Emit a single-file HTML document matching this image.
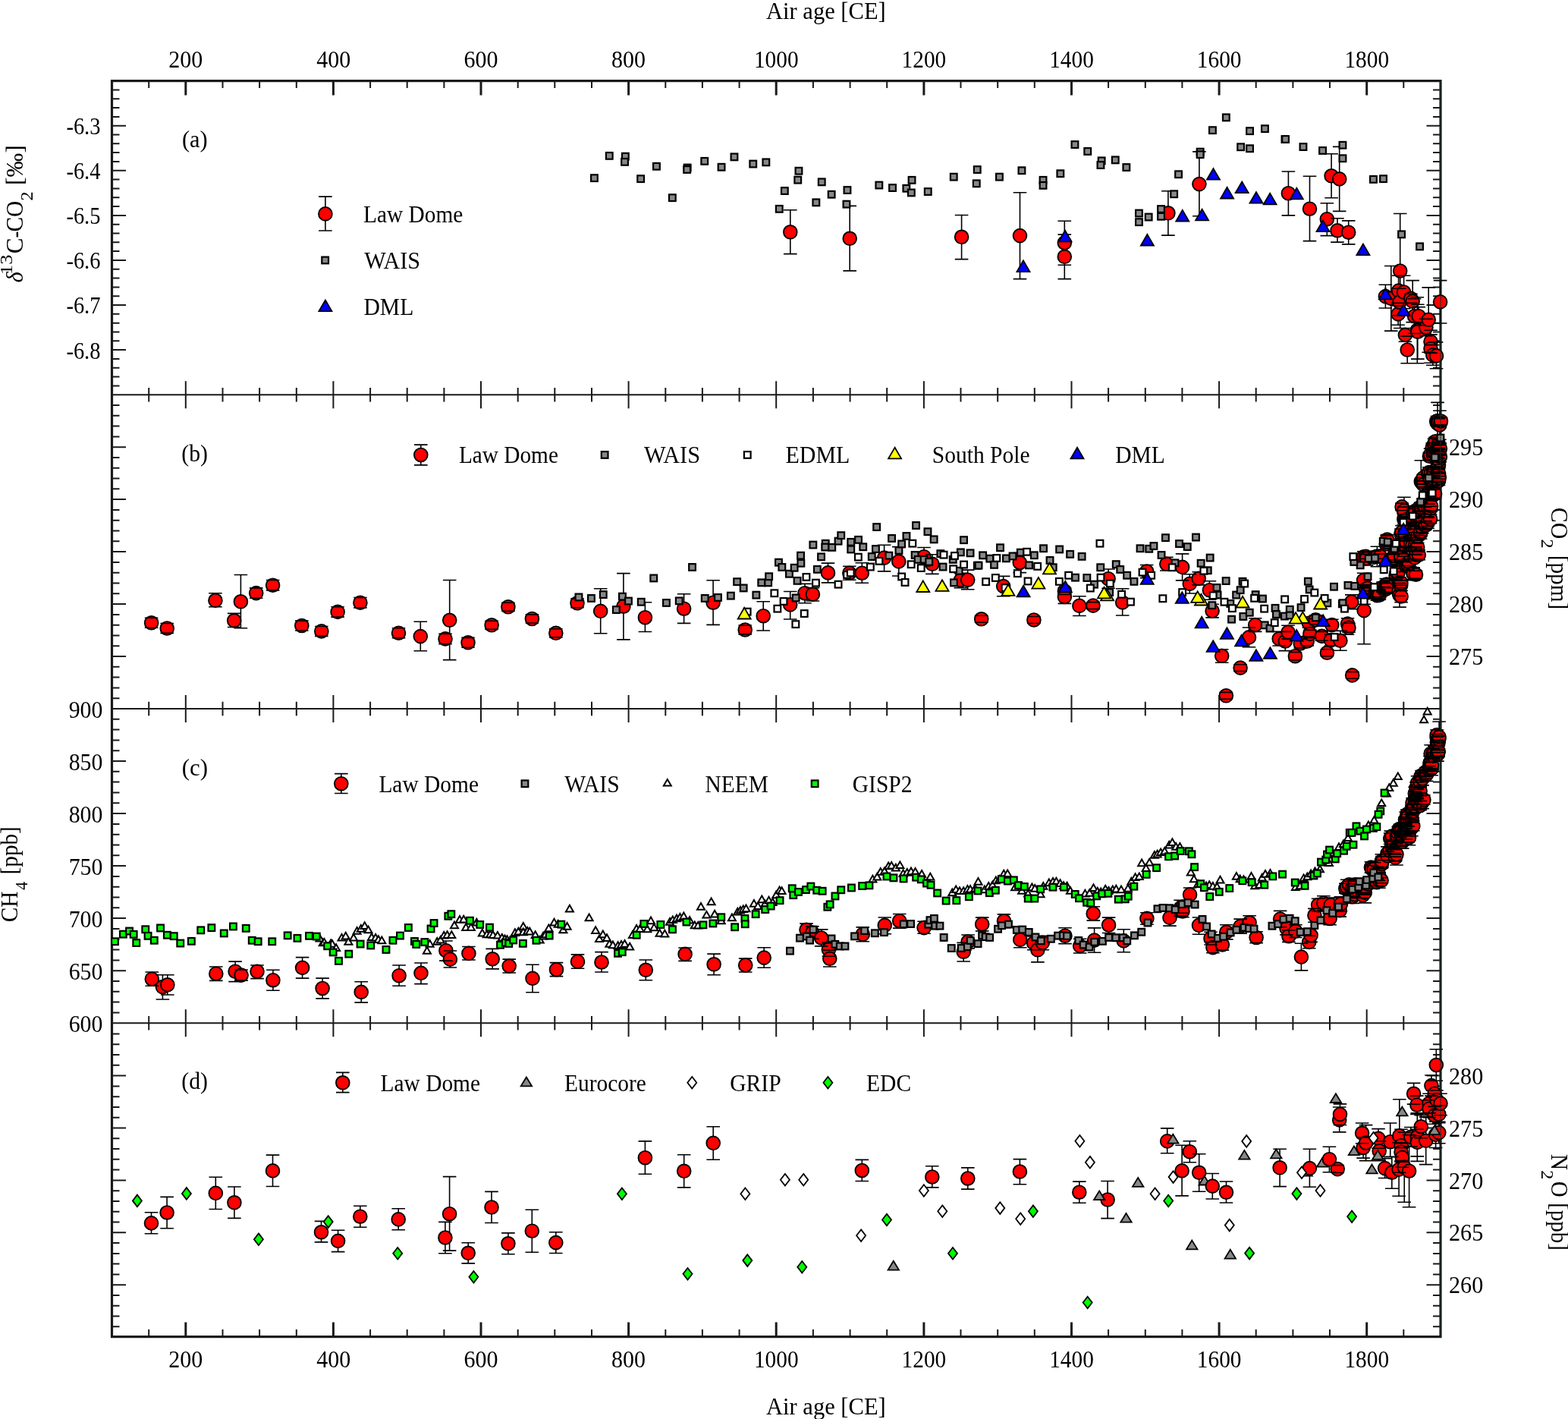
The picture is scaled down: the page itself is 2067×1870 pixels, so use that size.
<!DOCTYPE html>
<html lang="en"><head><meta charset="utf-8"><title>Law Dome trace gas records</title><style>
html,body{margin:0;padding:0;background:#fff}
body{width:2067px;height:1870px;overflow:hidden}
svg{display:block}
text{font-family:"Liberation Serif","Times New Roman",serif;fill:#000}
.tk{font-size:30.6px}
.eb{fill:none;stroke:#000;stroke-width:1.6}
.c{fill:#f00;stroke:#000;stroke-width:1.9}
.sg{fill:#888;stroke:#000;stroke-width:2.2}
.sw{fill:#fff;stroke:#000;stroke-width:2.2}
.sgr{fill:#0f0;stroke:#000;stroke-width:2.2}
.tb{fill:#00f;stroke:#000;stroke-width:1.8}
.ty{fill:#ff0;stroke:#000;stroke-width:1.8}
.te{fill:#888;stroke:#000;stroke-width:1.8}
.tn{fill:#fff;stroke:#000;stroke-width:2}
.dw{fill:#fff;stroke:#000;stroke-width:1.8}
.dg{fill:#0f0;stroke:#000;stroke-width:1.8}
</style></head><body>
<svg width="2067" height="1870" viewBox="0 0 2067 1870" role="img" aria-label="Law Dome trace gas records over the last 2000 years">
<rect width="2067" height="1870" fill="#fff"/>
<path d="M196.2 106.6v9.5M196.2 1761.6v-9.5M196.2 511v18.4M196.2 924.8v18.4M196.2 1339v18.4M244.8 502.2v36M244.8 916v36M244.8 1330.2v36M293.5 106.6v9.5M293.5 1761.6v-9.5M293.5 511v18.4M293.5 924.8v18.4M293.5 1339v18.4M342.1 106.6v9.5M342.1 1761.6v-9.5M342.1 511v18.4M342.1 924.8v18.4M342.1 1339v18.4M390.8 106.6v9.5M390.8 1761.6v-9.5M390.8 511v18.4M390.8 924.8v18.4M390.8 1339v18.4M439.4 502.2v36M439.4 916v36M439.4 1330.2v36M488.1 106.6v9.5M488.1 1761.6v-9.5M488.1 511v18.4M488.1 924.8v18.4M488.1 1339v18.4M536.7 106.6v9.5M536.7 1761.6v-9.5M536.7 511v18.4M536.7 924.8v18.4M536.7 1339v18.4M585.4 106.6v9.5M585.4 1761.6v-9.5M585.4 511v18.4M585.4 924.8v18.4M585.4 1339v18.4M634 502.2v36M634 916v36M634 1330.2v36M682.7 106.6v9.5M682.7 1761.6v-9.5M682.7 511v18.4M682.7 924.8v18.4M682.7 1339v18.4M731.3 106.6v9.5M731.3 1761.6v-9.5M731.3 511v18.4M731.3 924.8v18.4M731.3 1339v18.4M780 106.6v9.5M780 1761.6v-9.5M780 511v18.4M780 924.8v18.4M780 1339v18.4M828.6 502.2v36M828.6 916v36M828.6 1330.2v36M877.3 106.6v9.5M877.3 1761.6v-9.5M877.3 511v18.4M877.3 924.8v18.4M877.3 1339v18.4M925.9 106.6v9.5M925.9 1761.6v-9.5M925.9 511v18.4M925.9 924.8v18.4M925.9 1339v18.4M974.6 106.6v9.5M974.6 1761.6v-9.5M974.6 511v18.4M974.6 924.8v18.4M974.6 1339v18.4M1023.2 502.2v36M1023.2 916v36M1023.2 1330.2v36M1071.9 106.6v9.5M1071.9 1761.6v-9.5M1071.9 511v18.4M1071.9 924.8v18.4M1071.9 1339v18.4M1120.6 106.6v9.5M1120.6 1761.6v-9.5M1120.6 511v18.4M1120.6 924.8v18.4M1120.6 1339v18.4M1169.2 106.6v9.5M1169.2 1761.6v-9.5M1169.2 511v18.4M1169.2 924.8v18.4M1169.2 1339v18.4M1217.9 502.2v36M1217.9 916v36M1217.9 1330.2v36M1266.5 106.6v9.5M1266.5 1761.6v-9.5M1266.5 511v18.4M1266.5 924.8v18.4M1266.5 1339v18.4M1315.2 106.6v9.5M1315.2 1761.6v-9.5M1315.2 511v18.4M1315.2 924.8v18.4M1315.2 1339v18.4M1363.8 106.6v9.5M1363.8 1761.6v-9.5M1363.8 511v18.4M1363.8 924.8v18.4M1363.8 1339v18.4M1412.5 502.2v36M1412.5 916v36M1412.5 1330.2v36M1461.1 106.6v9.5M1461.1 1761.6v-9.5M1461.1 511v18.4M1461.1 924.8v18.4M1461.1 1339v18.4M1509.8 106.6v9.5M1509.8 1761.6v-9.5M1509.8 511v18.4M1509.8 924.8v18.4M1509.8 1339v18.4M1558.4 106.6v9.5M1558.4 1761.6v-9.5M1558.4 511v18.4M1558.4 924.8v18.4M1558.4 1339v18.4M1607.1 502.2v36M1607.1 916v36M1607.1 1330.2v36M1655.7 106.6v9.5M1655.7 1761.6v-9.5M1655.7 511v18.4M1655.7 924.8v18.4M1655.7 1339v18.4M1704.4 106.6v9.5M1704.4 1761.6v-9.5M1704.4 511v18.4M1704.4 924.8v18.4M1704.4 1339v18.4M1753 106.6v9.5M1753 1761.6v-9.5M1753 511v18.4M1753 924.8v18.4M1753 1339v18.4M1801.7 502.2v36M1801.7 916v36M1801.7 1330.2v36M1850.3 106.6v9.5M1850.3 1761.6v-9.5M1850.3 511v18.4M1850.3 924.8v18.4M1850.3 1339v18.4M147.5 118.4h10M1899 118.4h-10M147.5 130.2h10M1899 130.2h-10M147.5 142.1h10M1899 142.1h-10M147.5 153.9h10M1899 153.9h-10M147.5 165.7h18.5M1899 165.7h-18.5M147.5 177.5h10M1899 177.5h-10M147.5 189.3h10M1899 189.3h-10M147.5 201.1h10M1899 201.1h-10M147.5 213h10M1899 213h-10M147.5 224.8h18.5M1899 224.8h-18.5M147.5 236.6h10M1899 236.6h-10M147.5 248.4h10M1899 248.4h-10M147.5 260.2h10M1899 260.2h-10M147.5 272h10M1899 272h-10M147.5 283.9h18.5M1899 283.9h-18.5M147.5 295.7h10M1899 295.7h-10M147.5 307.5h10M1899 307.5h-10M147.5 319.3h10M1899 319.3h-10M147.5 331.1h10M1899 331.1h-10M147.5 342.9h18.5M1899 342.9h-18.5M147.5 354.8h10M1899 354.8h-10M147.5 366.6h10M1899 366.6h-10M147.5 378.4h10M1899 378.4h-10M147.5 390.2h10M1899 390.2h-10M147.5 402h18.5M1899 402h-18.5M147.5 413.8h10M1899 413.8h-10M147.5 425.7h10M1899 425.7h-10M147.5 437.5h10M1899 437.5h-10M147.5 449.3h10M1899 449.3h-10M147.5 461.1h18.5M1899 461.1h-18.5M147.5 472.9h10M1899 472.9h-10M147.5 484.7h10M1899 484.7h-10M147.5 496.6h10M1899 496.6h-10M147.5 508.4h10M1899 508.4h-10M147.5 534h10M1899 534h-10M147.5 547.8h10M1899 547.8h-10M147.5 561.6h10M1899 561.6h-10M147.5 575.4h10M1899 575.4h-10M147.5 589.2h18.5M1899 589.2h-18.5M147.5 603h10M1899 603h-10M147.5 616.8h10M1899 616.8h-10M147.5 630.5h10M1899 630.5h-10M147.5 644.3h10M1899 644.3h-10M147.5 658.1h18.5M1899 658.1h-18.5M147.5 671.9h10M1899 671.9h-10M147.5 685.7h10M1899 685.7h-10M147.5 699.5h10M1899 699.5h-10M147.5 713.3h10M1899 713.3h-10M147.5 727.1h18.5M1899 727.1h-18.5M147.5 740.9h10M1899 740.9h-10M147.5 754.7h10M1899 754.7h-10M147.5 768.5h10M1899 768.5h-10M147.5 782.3h10M1899 782.3h-10M147.5 796.1h18.5M1899 796.1h-18.5M147.5 809.9h10M1899 809.9h-10M147.5 823.7h10M1899 823.7h-10M147.5 837.4h10M1899 837.4h-10M147.5 851.2h10M1899 851.2h-10M147.5 865h18.5M1899 865h-18.5M147.5 878.8h10M1899 878.8h-10M147.5 892.6h10M1899 892.6h-10M147.5 906.4h10M1899 906.4h-10M147.5 920.2h10M1899 920.2h-10M147.5 947.8h10M1899 947.8h-10M147.5 961.6h10M1899 961.6h-10M147.5 975.4h10M1899 975.4h-10M147.5 989.2h10M1899 989.2h-10M147.5 1003h18.5M1899 1003h-18.5M147.5 1016.8h10M1899 1016.8h-10M147.5 1030.6h10M1899 1030.6h-10M147.5 1044.5h10M1899 1044.5h-10M147.5 1058.3h10M1899 1058.3h-10M147.5 1072.1h18.5M1899 1072.1h-18.5M147.5 1085.9h10M1899 1085.9h-10M147.5 1099.7h10M1899 1099.7h-10M147.5 1113.5h10M1899 1113.5h-10M147.5 1127.3h10M1899 1127.3h-10M147.5 1141.1h18.5M1899 1141.1h-18.5M147.5 1154.9h10M1899 1154.9h-10M147.5 1168.7h10M1899 1168.7h-10M147.5 1182.5h10M1899 1182.5h-10M147.5 1196.3h10M1899 1196.3h-10M147.5 1210.1h18.5M1899 1210.1h-18.5M147.5 1223.9h10M1899 1223.9h-10M147.5 1237.7h10M1899 1237.7h-10M147.5 1251.6h10M1899 1251.6h-10M147.5 1265.4h10M1899 1265.4h-10M147.5 1279.2h18.5M1899 1279.2h-18.5M147.5 1293h10M1899 1293h-10M147.5 1306.8h10M1899 1306.8h-10M147.5 1320.6h10M1899 1320.6h-10M147.5 1334.4h10M1899 1334.4h-10M147.5 1362.5h10M1899 1362.5h-10M147.5 1376.3h10M1899 1376.3h-10M147.5 1390h10M1899 1390h-10M147.5 1403.8h10M1899 1403.8h-10M147.5 1417.6h18.5M1899 1417.6h-18.5M147.5 1431.4h10M1899 1431.4h-10M147.5 1445.2h10M1899 1445.2h-10M147.5 1458.9h10M1899 1458.9h-10M147.5 1472.7h10M1899 1472.7h-10M147.5 1486.5h18.5M1899 1486.5h-18.5M147.5 1500.3h10M1899 1500.3h-10M147.5 1514.1h10M1899 1514.1h-10M147.5 1527.8h10M1899 1527.8h-10M147.5 1541.6h10M1899 1541.6h-10M147.5 1555.4h18.5M1899 1555.4h-18.5M147.5 1569.2h10M1899 1569.2h-10M147.5 1583h10M1899 1583h-10M147.5 1596.7h10M1899 1596.7h-10M147.5 1610.5h10M1899 1610.5h-10M147.5 1624.3h18.5M1899 1624.3h-18.5M147.5 1638.1h10M1899 1638.1h-10M147.5 1651.9h10M1899 1651.9h-10M147.5 1665.6h10M1899 1665.6h-10M147.5 1679.4h10M1899 1679.4h-10M147.5 1693.2h18.5M1899 1693.2h-18.5M147.5 1707h10M1899 1707h-10M147.5 1720.8h10M1899 1720.8h-10M147.5 1734.5h10M1899 1734.5h-10M147.5 1748.3h10M1899 1748.3h-10" fill="none" stroke="#1a1a1a" stroke-width="2"/>
<path d="M244.8 106.6v19M244.8 1761.6v-19M439.4 106.6v19M439.4 1761.6v-19M634 106.6v19M634 1761.6v-19M828.6 106.6v19M828.6 1761.6v-19M1023.2 106.6v19M1023.2 1761.6v-19M1217.9 106.6v19M1217.9 1761.6v-19M1412.5 106.6v19M1412.5 1761.6v-19M1607.1 106.6v19M1607.1 1761.6v-19M1801.7 106.6v19M1801.7 1761.6v-19" fill="none" stroke="#1a1a1a" stroke-width="3"/>
<path d="M147.5 520.2H1899M147.5 934H1899M147.5 1348.2H1899" fill="none" stroke="#1a1a1a" stroke-width="2"/>
<rect x="147.5" y="106.6" width="1751.5" height="1655" fill="none" stroke="#1a1a1a" stroke-width="3.2"/>
<path class="eb" d="M1041.8 276.8V334.6M1120.2 271.4V356.9M1267.6 283.5V341.6M1344.5 253.8V367.6M1403.3 291.2V349.2M1403.3 309.1V367.6M1539.9 251.8V310.1M1580.9 199.9V284.8M1698.4 226V283.9M1726.5 232.3V317.6M1749.3 267.8V310.6M1755.1 202.7V260.7M1763 287.8V319.1M1765.7 193.4V278.4M1777.7 290.9V321.9M1826.4 375.2V406M1833.8 350.5V436.1M1843.1 399.4V428.3M1843.6 363.3V403M1845 380.3V415.7M1845.7 281.5V432.5M1850.6 363.3V406.7M1852.4 432.5V450.2M1855.2 443.1V478.8M1859.9 387.3V399.4M1862.2 369.6V424.6M1864.6 393.8V439.5M1868.3 391.8V478.8M1868.8 401.3V473.1M1870.2 404.6V428.8M1879.9 420.4V442.8M1883.2 378.9V464.2M1886 435.3V465.1M1886 440.9V478.2M1888.8 454.6V481.3M1893.5 450.9V485.8M1898.6 369.6V426"/>
<g class="c"><circle cx="1041.8" cy="305.8" r="8.85"/><circle cx="1120.2" cy="314.3" r="8.85"/><circle cx="1267.6" cy="312.3" r="8.85"/><circle cx="1344.5" cy="310.6" r="8.85"/><circle cx="1403.3" cy="320" r="8.85"/><circle cx="1403.3" cy="338.3" r="8.85"/><circle cx="1539.9" cy="280.8" r="8.85"/><circle cx="1580.9" cy="242.6" r="8.85"/><circle cx="1698.4" cy="254.7" r="8.85"/><circle cx="1726.5" cy="275.2" r="8.85"/><circle cx="1749.3" cy="288.7" r="8.85"/><circle cx="1755.1" cy="231.8" r="8.85"/><circle cx="1763" cy="303.8" r="8.85"/><circle cx="1765.7" cy="235.9" r="8.85"/><circle cx="1777.7" cy="306.2" r="8.85"/><circle cx="1826.4" cy="390.6" r="8.85"/><circle cx="1833.8" cy="393.4" r="8.85"/><circle cx="1843.1" cy="413.9" r="8.85"/><circle cx="1843.6" cy="383.1" r="8.85"/><circle cx="1845" cy="398" r="8.85"/><circle cx="1845.7" cy="357" r="8.85"/><circle cx="1850.6" cy="385" r="8.85"/><circle cx="1852.4" cy="441.4" r="8.85"/><circle cx="1855.2" cy="461" r="8.85"/><circle cx="1859.9" cy="393.4" r="8.85"/><circle cx="1862.2" cy="397.1" r="8.85"/><circle cx="1864.6" cy="416.7" r="8.85"/><circle cx="1868.3" cy="435.3" r="8.85"/><circle cx="1868.8" cy="437.2" r="8.85"/><circle cx="1870.2" cy="416.7" r="8.85"/><circle cx="1879.9" cy="431.6" r="8.85"/><circle cx="1883.2" cy="421.3" r="8.85"/><circle cx="1886" cy="450.2" r="8.85"/><circle cx="1886" cy="459.6" r="8.85"/><circle cx="1888.8" cy="467.9" r="8.85"/><circle cx="1893.5" cy="468.9" r="8.85"/><circle cx="1898.6" cy="397.9" r="8.85"/></g>
<path class="eb" d="M1033 276.8h17.6M1033 334.6h17.6M1111.4 271.4h17.6M1111.4 356.9h17.6M1258.8 283.5h17.6M1258.8 341.6h17.6M1335.7 253.8h17.6M1335.7 367.6h17.6M1394.5 291.2h17.6M1394.5 349.2h17.6M1394.5 309.1h17.6M1394.5 367.6h17.6M1531.1 251.8h17.6M1531.1 310.1h17.6M1572.1 199.9h17.6M1572.1 284.8h17.6M1689.6 226h17.6M1689.6 283.9h17.6M1717.7 232.3h17.6M1717.7 317.6h17.6M1740.5 267.8h17.6M1740.5 310.6h17.6M1746.3 202.7h17.6M1746.3 260.7h17.6M1754.2 287.8h17.6M1754.2 319.1h17.6M1756.9 193.4h17.6M1756.9 278.4h17.6M1768.9 290.9h17.6M1768.9 321.9h17.6M1817.6 375.2h17.6M1817.6 406h17.6M1825 350.5h17.6M1825 436.1h17.6M1834.3 399.4h17.6M1834.3 428.3h17.6M1834.8 363.3h17.6M1834.8 403h17.6M1836.2 380.3h17.6M1836.2 415.7h17.6M1836.9 281.5h17.6M1836.9 432.5h17.6M1841.8 363.3h17.6M1841.8 406.7h17.6M1843.6 432.5h17.6M1843.6 450.2h17.6M1846.4 443.1h17.6M1846.4 478.8h17.6M1851.1 387.3h17.6M1851.1 399.4h17.6M1853.4 369.6h17.6M1853.4 424.6h17.6M1855.8 393.8h17.6M1855.8 439.5h17.6M1859.5 391.8h17.6M1859.5 478.8h17.6M1860 401.3h17.6M1860 473.1h17.6M1861.4 404.6h17.6M1861.4 428.8h17.6M1871.1 420.4h17.6M1871.1 442.8h17.6M1874.4 378.9h17.6M1874.4 464.2h17.6M1877.2 435.3h17.6M1877.2 465.1h17.6M1877.2 440.9h17.6M1877.2 478.2h17.6M1880 454.6h17.6M1880 481.3h17.6M1884.7 450.9h17.6M1884.7 485.8h17.6M1889.8 369.6h17.6M1889.8 426h17.6"/>
<g><rect x="779.1" y="230.3" width="8.7" height="8.7" class="sg"/><rect x="798.9" y="201" width="8.7" height="8.7" class="sg"/><rect x="820" y="201.8" width="8.7" height="8.7" class="sg"/><rect x="819.2" y="209" width="8.7" height="8.7" class="sg"/><rect x="840.3" y="231.3" width="8.7" height="8.7" class="sg"/><rect x="861.1" y="214.9" width="8.7" height="8.7" class="sg"/><rect x="882" y="256.3" width="8.7" height="8.7" class="sg"/><rect x="901.8" y="216.7" width="8.7" height="8.7" class="sg"/><rect x="901.3" y="219.1" width="8.7" height="8.7" class="sg"/><rect x="924.4" y="208" width="8.7" height="8.7" class="sg"/><rect x="946.7" y="215.9" width="8.7" height="8.7" class="sg"/><rect x="963.6" y="202.5" width="8.7" height="8.7" class="sg"/><rect x="988.4" y="211.7" width="8.7" height="8.7" class="sg"/><rect x="1005.5" y="209.5" width="8.7" height="8.7" class="sg"/><rect x="1022.9" y="271" width="8.7" height="8.7" class="sg"/><rect x="1030" y="247.2" width="8.7" height="8.7" class="sg"/><rect x="1047.4" y="232.8" width="8.7" height="8.7" class="sg"/><rect x="1048.6" y="220.9" width="8.7" height="8.7" class="sg"/><rect x="1071.5" y="262.5" width="8.7" height="8.7" class="sg"/><rect x="1078.9" y="235.5" width="8.7" height="8.7" class="sg"/><rect x="1091.8" y="251.9" width="8.7" height="8.7" class="sg"/><rect x="1112.6" y="246.2" width="8.7" height="8.7" class="sg"/><rect x="1111.6" y="264.8" width="8.7" height="8.7" class="sg"/><rect x="1154.5" y="239.7" width="8.7" height="8.7" class="sg"/><rect x="1172.2" y="243.2" width="8.7" height="8.7" class="sg"/><rect x="1190.5" y="243.9" width="8.7" height="8.7" class="sg"/><rect x="1197.7" y="233" width="8.7" height="8.7" class="sg"/><rect x="1197" y="249.6" width="8.7" height="8.7" class="sg"/><rect x="1218.9" y="248.2" width="8.7" height="8.7" class="sg"/><rect x="1252.9" y="228.8" width="8.7" height="8.7" class="sg"/><rect x="1283.9" y="219.2" width="8.7" height="8.7" class="sg"/><rect x="1282.9" y="237.5" width="8.7" height="8.7" class="sg"/><rect x="1313.1" y="228.8" width="8.7" height="8.7" class="sg"/><rect x="1342.6" y="220.4" width="8.7" height="8.7" class="sg"/><rect x="1370.7" y="233" width="8.7" height="8.7" class="sg"/><rect x="1370.7" y="240" width="8.7" height="8.7" class="sg"/><rect x="1393.5" y="224.4" width="8.7" height="8.7" class="sg"/><rect x="1412.6" y="186.2" width="8.7" height="8.7" class="sg"/><rect x="1429.4" y="195.1" width="8.7" height="8.7" class="sg"/><rect x="1447.8" y="207.5" width="8.7" height="8.7" class="sg"/><rect x="1446.6" y="213.2" width="8.7" height="8.7" class="sg"/><rect x="1465.9" y="206.5" width="8.7" height="8.7" class="sg"/><rect x="1480.5" y="216.2" width="8.7" height="8.7" class="sg"/><rect x="1497.1" y="276.7" width="8.7" height="8.7" class="sg"/><rect x="1497.1" y="288.3" width="8.7" height="8.7" class="sg"/><rect x="1509.8" y="281.7" width="8.7" height="8.7" class="sg"/><rect x="1526.2" y="271.2" width="8.7" height="8.7" class="sg"/><rect x="1526.2" y="280.9" width="8.7" height="8.7" class="sg"/><rect x="1543.3" y="251.4" width="8.7" height="8.7" class="sg"/><rect x="1549.2" y="225.4" width="8.7" height="8.7" class="sg"/><rect x="1577.8" y="195.8" width="8.7" height="8.7" class="sg"/><rect x="1577.8" y="199.3" width="8.7" height="8.7" class="sg"/><rect x="1594.1" y="167.3" width="8.7" height="8.7" class="sg"/><rect x="1612" y="150.5" width="8.7" height="8.7" class="sg"/><rect x="1631.3" y="189.4" width="8.7" height="8.7" class="sg"/><rect x="1643.2" y="168.3" width="8.7" height="8.7" class="sg"/><rect x="1643.2" y="191.4" width="8.7" height="8.7" class="sg"/><rect x="1663.1" y="165.3" width="8.7" height="8.7" class="sg"/><rect x="1689.6" y="179.2" width="8.7" height="8.7" class="sg"/><rect x="1690.2" y="179.1" width="8.7" height="8.7" class="sg"/><rect x="1713.6" y="189.2" width="8.7" height="8.7" class="sg"/><rect x="1739.2" y="194.1" width="8.7" height="8.7" class="sg"/><rect x="1765.6" y="186.9" width="8.7" height="8.7" class="sg"/><rect x="1765.6" y="204.4" width="8.7" height="8.7" class="sg"/><rect x="1806.1" y="232" width="8.7" height="8.7" class="sg"/><rect x="1819.2" y="231.3" width="8.7" height="8.7" class="sg"/><rect x="1843.2" y="304.5" width="8.7" height="8.7" class="sg"/><rect x="1867.2" y="320.5" width="8.7" height="8.7" class="sg"/></g>
<g><path d="M1349 343.4l8.5 14.6h-17z" class="tb"/><path d="M1404 303.7l8.5 14.6h-17z" class="tb"/><path d="M1512.4 308.9l8.5 14.6h-17z" class="tb"/><path d="M1558.8 276.9l8.5 14.6h-17z" class="tb"/><path d="M1584.6 275.7l8.5 14.6h-17z" class="tb"/><path d="M1599.5 222.1l8.5 14.6h-17z" class="tb"/><path d="M1617.6 246.9l8.5 14.6h-17z" class="tb"/><path d="M1637.2 239.5l8.5 14.6h-17z" class="tb"/><path d="M1656 253.1l8.5 14.6h-17z" class="tb"/><path d="M1674.1 254.8l8.5 14.6h-17z" class="tb"/><path d="M1709.3 247.8l8.5 14.6h-17z" class="tb"/><path d="M1744 290.5l8.5 14.6h-17z" class="tb"/><path d="M1796.9 321.5l8.5 14.6h-17z" class="tb"/><path d="M1826.4 379.8l8.5 14.6h-17z" class="tb"/><path d="M1850.1 401.3l8.5 14.6h-17z" class="tb"/></g>
<path class="eb" d="M199.6 814.3V827.2M220.2 821.5V834.4M283.9 781.8V799.7M308.7 808.4V826.5M317.4 757.5V827.7M337.7 774.9V788.3M359.6 764.5V777.9M397.8 818.1V831M423.8 825.5V838.4M445.1 799.7V813.1M474.9 787.5V800.9M525.5 827.7V840.6M554.3 819.3V857.7M587 835.2V848.6M592.7 764.5V869.6M617 840.4V853.3M648.1 818.3V829.4M669.9 794.2V805.4M701.4 809.9V821M732.8 828.8V839.9M761 788.9V800.8M791.7 775.8V834.7M821.9 755.6V842.9M850.4 793.8V832.5M901.6 782.7V821.4M940.1 764.7V823.4M982.2 824V835.9M1006.2 792.7V831M1041.7 779.5V816M1061 769.4V794.7M1071.4 774.6V792M1091.5 742.1V767.9M1119.8 746.3V764.2M1136.3 741.8V768.3M1165.6 718.3V752.9M1184.8 720.6V759M1218 721.5V745.9M1228.9 730.7V756.4M1266.4 755.2V774.6M1275.7 751.1V776.7M1293.7 811.3V820.3M1322.7 759.4V785.7M1344.3 728.5V754.6M1362.9 812.5V821.5M1403.4 774.6V783.5M1403.4 777.6V795.4M1422.9 785.7V811.5M1441 793.6V802.6M1461.1 750V775.3M1479.7 775.8V811M1511.7 744.5V761.6M1537.8 734.4V752M1558.6 729.9V764.9M1568.3 756.7V782M1580.2 753.8V770.9M1594.4 765.8V790.3M1598.1 796.2V813.9M1610.7 855.7V873.2M1616.3 912.4V921.3M1635.1 875.7V884.6M1646.5 827V852.7M1654.7 814.7V832.4M1686.2 832.4V851M1694.3 832.4V857.6M1698 824.3V842.1M1707.4 859.5V869.9M1714.3 842.1V853.9M1723.2 839.1V851M1725.4 815.4V827.3M1726.9 830.2V840.6M1734.3 811V822.8M1742.4 832.4V844.3M1749.4 855.8V864.7M1754.3 836.2V851M1755.8 816.2V831M1766.9 831.4V857.2M1776.5 814.7V836.2M1778 821.3V833.2M1781.8 783.9V802.6M1782.7 885.4V894.3M1797.6 755.2V773.5M1797.6 726.8V740.5M1798.1 796.2V848.7M1800.3 730.4V736.4M1800.6 770.5V782.4M1801.6 727.6V744.9M1802.9 771.8V778.7M1803.8 774.9V786.2M1811.7 726.3V742.1M1813.2 772.8V788.2M1814.4 775.5V789.3M1815.4 778.2V791.2M1815.4 720.2V746.8M1815.9 776.7V788.9M1817.5 776.8V786.8M1818.4 778.4V790.3M1819.4 729.9V736.2M1823 767.1V780.1M1824.8 773.6V781M1826.3 768.6V782.4M1827.2 762.6V780.4M1827.3 713.5V720.5M1827.9 765.1V774.8M1827.9 768.6V782.5M1828.2 705.9V723.2M1828.6 704.6V717.5M1835.7 730.7V745M1837.1 729.1V740.9M1838.2 726.7V737.9M1840.1 753.5V763.7M1841 746.2V762M1843 748.8V760.7M1843.9 774.2V785.1M1845 760.7V774.5M1845 768.6V800.1M1846.7 764.6V778.6M1846.8 730V738.6M1846.9 697V709.7M1846.9 765.1V771.3M1847 726.1V739.9M1847.1 778.3V793.6M1848 692.6V710.3M1848.1 663.1V672.8M1849.2 712.3V721.7M1850.5 733.2V740.8M1850.7 668.1V680.7M1850.8 680.2V687.6M1850.9 655.2V690.6M1851.8 698.3V707.9M1852.4 682.1V689.7M1852.9 713.3V725.1M1853.9 677.8V691.6M1853.9 739.2V752.2M1854 709.4V720M1855.9 737V750.8M1857.5 736.6V745.5M1859.4 711.7V722.4M1860.7 692V701.6M1861.8 712.3V726.1M1862.8 747.8V764.6M1862.9 670.5V683.4M1863.2 748.4V763.6M1863.8 693.6V705.4M1863.8 697.1V708.1M1864.7 667.9V679.7M1865 730.4V739.2M1865.4 711.2V726.8M1865.6 668.1V680.7M1866 720.6V730.2M1866.2 716.1V731.2M1866.5 752.3V762.4M1866.7 725.1V737M1868.7 676.8V688.6M1868.7 715.3V727.1M1868.9 701.5V711.8M1870.3 674.4V682.1M1870.3 724.7V737.7M1870.8 665.5V673.1M1871.2 676.6V686.8M1872.6 696.5V710.3M1872.8 695.5V705.8M1873.3 606.8V662.1M1873.6 663V676.8M1873.8 629.5V638.4M1874.8 687V702.7M1875.6 629.8V637.2M1876.2 633.8V641.9M1876.3 625.2V634.3M1876.7 633.9V643.5M1876.9 658.4V672.6M1878.6 686.6V698.5M1878.6 655.3V668.2M1878.7 652.2V664.1M1879.3 687.4V697.3M1880.4 648.3V663.6M1882 682.3V693.4M1882.2 680.8V696.3M1882.9 619.5V628.1M1883 664.1V673.5M1883.6 615.7V629.5M1883.6 642.4V654.2M1883.9 642.1V653.4M1884.4 596.7V605.9M1884.7 626.4V634M1884.8 645.8V656.8M1885.5 677.8V689.6M1885.6 591.1V606.8M1885.7 667.2V673.4M1886.4 616.8V630.6M1886.5 660V673.8M1888.3 583.8V594.8M1888.6 626.6V640.4M1889.4 593.1V605.9M1889.6 644.8V656M1889.7 621.9V629.6M1889.8 616.5V626.4M1890.3 627.5V635.4M1890.5 578.2V592M1890.5 614.7V630.5M1890.5 644.3V658.2M1890.6 590.5V601.9M1891.6 644.8V657.1M1892.1 576.4V587.1M1893.5 593V602.1M1893.5 593V604.9M1893.7 550.7V560M1893.9 624.3V638.9M1894.1 618.2V634M1894.5 548.5V561.1M1895 530.4V585.6M1895 602.8V615.2M1895.6 609V624M1896.1 581.5V595.8M1896.2 551.8V562.1M1896.2 584.6V598.2M1896.4 590.4V604.4M1896.5 579.2V591.1M1896.5 606.8V618.7M1896.5 622.6V634.5M1896.5 627.6V639.4M1896.6 616.9V631.3M1896.7 600.3V612.3M1897.3 584.3V592.8M1897.3 623.1V635.9M1897.6 586.5V599.1M1897.9 541.2V579.2M1898.4 584.1V598M1898.4 595V608.8M1899.5 550.2V559.8"/>
<g class="c"><circle cx="199.6" cy="820.8" r="8.85"/><circle cx="220.2" cy="828" r="8.85"/><circle cx="283.9" cy="791.3" r="8.85"/><circle cx="308.7" cy="817.8" r="8.85"/><circle cx="317.4" cy="792.8" r="8.85"/><circle cx="337.7" cy="781.6" r="8.85"/><circle cx="359.6" cy="771.2" r="8.85"/><circle cx="397.8" cy="824.5" r="8.85"/><circle cx="423.8" cy="831.9" r="8.85"/><circle cx="445.1" cy="806.4" r="8.85"/><circle cx="474.9" cy="794.2" r="8.85"/><circle cx="525.5" cy="834.2" r="8.85"/><circle cx="554.3" cy="838.6" r="8.85"/><circle cx="587" cy="841.9" r="8.85"/><circle cx="592.7" cy="817.3" r="8.85"/><circle cx="617" cy="846.8" r="8.85"/><circle cx="648.1" cy="823.8" r="8.85"/><circle cx="669.9" cy="799.8" r="8.85"/><circle cx="701.4" cy="815.5" r="8.85"/><circle cx="732.8" cy="834.3" r="8.85"/><circle cx="761" cy="794.8" r="8.85"/><circle cx="791.7" cy="805.4" r="8.85"/><circle cx="821.9" cy="799.2" r="8.85"/><circle cx="850.4" cy="813.7" r="8.85"/><circle cx="901.6" cy="802.2" r="8.85"/><circle cx="940.1" cy="794.2" r="8.85"/><circle cx="982.2" cy="830" r="8.85"/><circle cx="1006.2" cy="811.7" r="8.85"/><circle cx="1041.7" cy="796.9" r="8.85"/><circle cx="1061" cy="781.7" r="8.85"/><circle cx="1071.4" cy="783.2" r="8.85"/><circle cx="1091.5" cy="754.9" r="8.85"/><circle cx="1119.8" cy="755.2" r="8.85"/><circle cx="1136.3" cy="755.2" r="8.85"/><circle cx="1165.6" cy="735.1" r="8.85"/><circle cx="1184.8" cy="739.9" r="8.85"/><circle cx="1218" cy="733.7" r="8.85"/><circle cx="1228.9" cy="743.3" r="8.85"/><circle cx="1266.4" cy="764.6" r="8.85"/><circle cx="1275.7" cy="764.2" r="8.85"/><circle cx="1293.7" cy="815.8" r="8.85"/><circle cx="1322.7" cy="772.6" r="8.85"/><circle cx="1344.3" cy="741.5" r="8.85"/><circle cx="1362.9" cy="817" r="8.85"/><circle cx="1403.4" cy="779" r="8.85"/><circle cx="1403.4" cy="786.5" r="8.85"/><circle cx="1422.9" cy="798.4" r="8.85"/><circle cx="1441" cy="798.1" r="8.85"/><circle cx="1461.1" cy="762.7" r="8.85"/><circle cx="1479.7" cy="793.9" r="8.85"/><circle cx="1511.7" cy="753" r="8.85"/><circle cx="1537.8" cy="743.3" r="8.85"/><circle cx="1558.6" cy="747.4" r="8.85"/><circle cx="1568.3" cy="769.4" r="8.85"/><circle cx="1580.2" cy="762.4" r="8.85"/><circle cx="1594.4" cy="777.7" r="8.85"/><circle cx="1598.1" cy="805.1" r="8.85"/><circle cx="1610.7" cy="864.3" r="8.85"/><circle cx="1616.3" cy="916.8" r="8.85"/><circle cx="1635.1" cy="880.1" r="8.85"/><circle cx="1646.5" cy="839.9" r="8.85"/><circle cx="1654.7" cy="823.6" r="8.85"/><circle cx="1686.2" cy="841.8" r="8.85"/><circle cx="1694.3" cy="845" r="8.85"/><circle cx="1698" cy="833.2" r="8.85"/><circle cx="1707.4" cy="864.7" r="8.85"/><circle cx="1714.3" cy="848" r="8.85"/><circle cx="1723.2" cy="845" r="8.85"/><circle cx="1725.4" cy="821.3" r="8.85"/><circle cx="1726.9" cy="835.4" r="8.85"/><circle cx="1734.3" cy="816.9" r="8.85"/><circle cx="1742.4" cy="838.4" r="8.85"/><circle cx="1749.4" cy="860.3" r="8.85"/><circle cx="1754.3" cy="843.6" r="8.85"/><circle cx="1755.8" cy="823.6" r="8.85"/><circle cx="1766.9" cy="844.3" r="8.85"/><circle cx="1776.5" cy="822.1" r="8.85"/><circle cx="1778" cy="827.3" r="8.85"/><circle cx="1781.8" cy="793.2" r="8.85"/><circle cx="1782.7" cy="889.9" r="8.85"/><circle cx="1797.6" cy="764.6" r="8.85"/><circle cx="1797.6" cy="733.7" r="8.85"/><circle cx="1798.1" cy="804.6" r="8.85"/><circle cx="1800.3" cy="733.4" r="8.85"/><circle cx="1800.6" cy="776.5" r="8.85"/><circle cx="1801.6" cy="736" r="8.85"/><circle cx="1802.9" cy="775.2" r="8.85"/><circle cx="1803.8" cy="780.6" r="8.85"/><circle cx="1811.7" cy="734.2" r="8.85"/><circle cx="1813.2" cy="780.5" r="8.85"/><circle cx="1814.4" cy="782.4" r="8.85"/><circle cx="1815.4" cy="784.7" r="8.85"/><circle cx="1815.4" cy="733" r="8.85"/><circle cx="1815.9" cy="782.8" r="8.85"/><circle cx="1817.5" cy="781.8" r="8.85"/><circle cx="1818.4" cy="784.3" r="8.85"/><circle cx="1819.4" cy="733.1" r="8.85"/><circle cx="1823" cy="773.6" r="8.85"/><circle cx="1824.8" cy="777.3" r="8.85"/><circle cx="1826.3" cy="775.5" r="8.85"/><circle cx="1827.2" cy="771.5" r="8.85"/><circle cx="1827.3" cy="717" r="8.85"/><circle cx="1827.9" cy="770" r="8.85"/><circle cx="1827.9" cy="775.5" r="8.85"/><circle cx="1828.2" cy="714.3" r="8.85"/><circle cx="1828.6" cy="711.1" r="8.85"/><circle cx="1835.7" cy="737.9" r="8.85"/><circle cx="1837.1" cy="735" r="8.85"/><circle cx="1838.2" cy="732.3" r="8.85"/><circle cx="1840.1" cy="758.6" r="8.85"/><circle cx="1841" cy="754.1" r="8.85"/><circle cx="1843" cy="754.7" r="8.85"/><circle cx="1843.9" cy="779.6" r="8.85"/><circle cx="1845" cy="767.6" r="8.85"/><circle cx="1845" cy="784.3" r="8.85"/><circle cx="1846.7" cy="771.6" r="8.85"/><circle cx="1846.8" cy="734.3" r="8.85"/><circle cx="1846.9" cy="703.3" r="8.85"/><circle cx="1846.9" cy="768.2" r="8.85"/><circle cx="1847" cy="733" r="8.85"/><circle cx="1847.1" cy="785.9" r="8.85"/><circle cx="1848" cy="701.4" r="8.85"/><circle cx="1848.1" cy="667.9" r="8.85"/><circle cx="1849.2" cy="717" r="8.85"/><circle cx="1850.5" cy="737" r="8.85"/><circle cx="1850.7" cy="674.4" r="8.85"/><circle cx="1850.8" cy="683.9" r="8.85"/><circle cx="1850.9" cy="672.8" r="8.85"/><circle cx="1851.8" cy="703.1" r="8.85"/><circle cx="1852.4" cy="685.9" r="8.85"/><circle cx="1852.9" cy="719.2" r="8.85"/><circle cx="1853.9" cy="684.7" r="8.85"/><circle cx="1853.9" cy="745.7" r="8.85"/><circle cx="1854" cy="714.7" r="8.85"/><circle cx="1855.9" cy="743.9" r="8.85"/><circle cx="1857.5" cy="741" r="8.85"/><circle cx="1859.4" cy="717" r="8.85"/><circle cx="1860.7" cy="696.8" r="8.85"/><circle cx="1861.8" cy="719.2" r="8.85"/><circle cx="1862.8" cy="754.7" r="8.85"/><circle cx="1862.9" cy="676.9" r="8.85"/><circle cx="1863.2" cy="756" r="8.85"/><circle cx="1863.8" cy="699.5" r="8.85"/><circle cx="1863.8" cy="702.6" r="8.85"/><circle cx="1864.7" cy="673.8" r="8.85"/><circle cx="1865" cy="734.8" r="8.85"/><circle cx="1865.4" cy="719" r="8.85"/><circle cx="1865.6" cy="674.4" r="8.85"/><circle cx="1866" cy="725.4" r="8.85"/><circle cx="1866.2" cy="723.7" r="8.85"/><circle cx="1866.5" cy="757.3" r="8.85"/><circle cx="1866.7" cy="731.1" r="8.85"/><circle cx="1868.7" cy="682.7" r="8.85"/><circle cx="1868.7" cy="721.2" r="8.85"/><circle cx="1868.9" cy="706.6" r="8.85"/><circle cx="1870.3" cy="678.2" r="8.85"/><circle cx="1870.3" cy="731.2" r="8.85"/><circle cx="1870.8" cy="669.3" r="8.85"/><circle cx="1871.2" cy="681.7" r="8.85"/><circle cx="1872.6" cy="703.4" r="8.85"/><circle cx="1872.8" cy="700.6" r="8.85"/><circle cx="1873.3" cy="634.5" r="8.85"/><circle cx="1873.6" cy="669.9" r="8.85"/><circle cx="1873.8" cy="635.5" r="8.85"/><circle cx="1874.8" cy="694.8" r="8.85"/><circle cx="1875.6" cy="633.5" r="8.85"/><circle cx="1876.2" cy="637.8" r="8.85"/><circle cx="1876.3" cy="629.7" r="8.85"/><circle cx="1876.7" cy="638.7" r="8.85"/><circle cx="1876.9" cy="665.5" r="8.85"/><circle cx="1878.6" cy="692.6" r="8.85"/><circle cx="1878.6" cy="661.7" r="8.85"/><circle cx="1878.7" cy="658.2" r="8.85"/><circle cx="1879.3" cy="692.3" r="8.85"/><circle cx="1880.4" cy="655.9" r="8.85"/><circle cx="1882" cy="687.8" r="8.85"/><circle cx="1882.2" cy="688.6" r="8.85"/><circle cx="1882.9" cy="623.8" r="8.85"/><circle cx="1883" cy="668.8" r="8.85"/><circle cx="1883.6" cy="622.6" r="8.85"/><circle cx="1883.6" cy="648.3" r="8.85"/><circle cx="1883.9" cy="647.8" r="8.85"/><circle cx="1884.4" cy="601.3" r="8.85"/><circle cx="1884.7" cy="630.2" r="8.85"/><circle cx="1884.8" cy="651.3" r="8.85"/><circle cx="1885.5" cy="683.7" r="8.85"/><circle cx="1885.6" cy="598.9" r="8.85"/><circle cx="1885.7" cy="670.3" r="8.85"/><circle cx="1886.4" cy="623.7" r="8.85"/><circle cx="1886.5" cy="666.9" r="8.85"/><circle cx="1888.3" cy="589.3" r="8.85"/><circle cx="1888.6" cy="633.5" r="8.85"/><circle cx="1889.4" cy="599.5" r="8.85"/><circle cx="1889.6" cy="650.4" r="8.85"/><circle cx="1889.7" cy="625.7" r="8.85"/><circle cx="1889.8" cy="621.4" r="8.85"/><circle cx="1890.3" cy="631.5" r="8.85"/><circle cx="1890.5" cy="585.1" r="8.85"/><circle cx="1890.5" cy="622.6" r="8.85"/><circle cx="1890.5" cy="651.3" r="8.85"/><circle cx="1890.6" cy="596.2" r="8.85"/><circle cx="1891.6" cy="650.9" r="8.85"/><circle cx="1892.1" cy="581.8" r="8.85"/><circle cx="1893.5" cy="597.6" r="8.85"/><circle cx="1893.5" cy="598.9" r="8.85"/><circle cx="1893.7" cy="555.4" r="8.85"/><circle cx="1893.9" cy="631.6" r="8.85"/><circle cx="1894.1" cy="626.1" r="8.85"/><circle cx="1894.5" cy="554.8" r="8.85"/><circle cx="1895" cy="558" r="8.85"/><circle cx="1895" cy="609" r="8.85"/><circle cx="1895.6" cy="616.5" r="8.85"/><circle cx="1896.1" cy="588.7" r="8.85"/><circle cx="1896.2" cy="557" r="8.85"/><circle cx="1896.2" cy="591.4" r="8.85"/><circle cx="1896.4" cy="597.4" r="8.85"/><circle cx="1896.5" cy="585.1" r="8.85"/><circle cx="1896.5" cy="612.8" r="8.85"/><circle cx="1896.5" cy="628.6" r="8.85"/><circle cx="1896.5" cy="633.5" r="8.85"/><circle cx="1896.6" cy="624.1" r="8.85"/><circle cx="1896.7" cy="606.3" r="8.85"/><circle cx="1897.3" cy="588.6" r="8.85"/><circle cx="1897.3" cy="629.5" r="8.85"/><circle cx="1897.6" cy="592.8" r="8.85"/><circle cx="1897.9" cy="560" r="8.85"/><circle cx="1898.4" cy="591.1" r="8.85"/><circle cx="1898.4" cy="601.9" r="8.85"/><circle cx="1899.5" cy="555" r="8.85"/></g>
<path class="eb" d="M190.8 814.3h17.6M190.8 827.2h17.6M211.4 821.5h17.6M211.4 834.4h17.6M275.1 781.8h17.6M275.1 799.7h17.6M299.9 808.4h17.6M299.9 826.5h17.6M308.6 757.5h17.6M308.6 827.7h17.6M328.9 774.9h17.6M328.9 788.3h17.6M350.8 764.5h17.6M350.8 777.9h17.6M389 818.1h17.6M389 831h17.6M415 825.5h17.6M415 838.4h17.6M436.3 799.7h17.6M436.3 813.1h17.6M466.1 787.5h17.6M466.1 800.9h17.6M516.7 827.7h17.6M516.7 840.6h17.6M545.5 819.3h17.6M545.5 857.7h17.6M578.2 835.2h17.6M578.2 848.6h17.6M583.9 764.5h17.6M583.9 869.6h17.6M608.2 840.4h17.6M608.2 853.3h17.6M639.3 818.3h17.6M639.3 829.4h17.6M661.1 794.2h17.6M661.1 805.4h17.6M692.6 809.9h17.6M692.6 821h17.6M724 828.8h17.6M724 839.9h17.6M752.2 788.9h17.6M752.2 800.8h17.6M782.9 775.8h17.6M782.9 834.7h17.6M813.1 755.6h17.6M813.1 842.9h17.6M841.6 793.8h17.6M841.6 832.5h17.6M892.8 782.7h17.6M892.8 821.4h17.6M931.3 764.7h17.6M931.3 823.4h17.6M973.4 824h17.6M973.4 835.9h17.6M997.4 792.7h17.6M997.4 831h17.6M1032.9 779.5h17.6M1032.9 816h17.6M1052.2 769.4h17.6M1052.2 794.7h17.6M1062.6 774.6h17.6M1062.6 792h17.6M1082.7 742.1h17.6M1082.7 767.9h17.6M1111 746.3h17.6M1111 764.2h17.6M1127.5 741.8h17.6M1127.5 768.3h17.6M1156.8 718.3h17.6M1156.8 752.9h17.6M1176 720.6h17.6M1176 759h17.6M1209.2 721.5h17.6M1209.2 745.9h17.6M1220.1 730.7h17.6M1220.1 756.4h17.6M1257.6 755.2h17.6M1257.6 774.6h17.6M1266.9 751.1h17.6M1266.9 776.7h17.6M1284.9 811.3h17.6M1284.9 820.3h17.6M1313.9 759.4h17.6M1313.9 785.7h17.6M1335.5 728.5h17.6M1335.5 754.6h17.6M1354.1 812.5h17.6M1354.1 821.5h17.6M1394.6 774.6h17.6M1394.6 783.5h17.6M1394.6 777.6h17.6M1394.6 795.4h17.6M1414.1 785.7h17.6M1414.1 811.5h17.6M1432.2 793.6h17.6M1432.2 802.6h17.6M1452.3 750h17.6M1452.3 775.3h17.6M1470.9 775.8h17.6M1470.9 811h17.6M1502.9 744.5h17.6M1502.9 761.6h17.6M1529 734.4h17.6M1529 752h17.6M1549.8 729.9h17.6M1549.8 764.9h17.6M1559.5 756.7h17.6M1559.5 782h17.6M1571.4 753.8h17.6M1571.4 770.9h17.6M1585.6 765.8h17.6M1585.6 790.3h17.6M1589.3 796.2h17.6M1589.3 813.9h17.6M1601.9 855.7h17.6M1601.9 873.2h17.6M1607.5 912.4h17.6M1607.5 921.3h17.6M1626.3 875.7h17.6M1626.3 884.6h17.6M1637.7 827h17.6M1637.7 852.7h17.6M1645.9 814.7h17.6M1645.9 832.4h17.6M1677.4 832.4h17.6M1677.4 851h17.6M1685.5 832.4h17.6M1685.5 857.6h17.6M1689.2 824.3h17.6M1689.2 842.1h17.6M1698.6 859.5h17.6M1698.6 869.9h17.6M1705.5 842.1h17.6M1705.5 853.9h17.6M1714.4 839.1h17.6M1714.4 851h17.6M1716.6 815.4h17.6M1716.6 827.3h17.6M1718.1 830.2h17.6M1718.1 840.6h17.6M1725.5 811h17.6M1725.5 822.8h17.6M1733.6 832.4h17.6M1733.6 844.3h17.6M1740.6 855.8h17.6M1740.6 864.7h17.6M1745.5 836.2h17.6M1745.5 851h17.6M1747 816.2h17.6M1747 831h17.6M1758.1 831.4h17.6M1758.1 857.2h17.6M1767.7 814.7h17.6M1767.7 836.2h17.6M1769.2 821.3h17.6M1769.2 833.2h17.6M1773 783.9h17.6M1773 802.6h17.6M1773.9 885.4h17.6M1773.9 894.3h17.6M1788.8 755.2h17.6M1788.8 773.5h17.6M1788.8 726.8h17.6M1788.8 740.5h17.6M1789.3 796.2h17.6M1789.3 848.7h17.6M1791.5 730.4h17.6M1791.5 736.4h17.6M1791.8 770.5h17.6M1791.8 782.4h17.6M1792.8 727.6h17.6M1792.8 744.9h17.6M1794.1 771.8h17.6M1794.1 778.7h17.6M1795 774.9h17.6M1795 786.2h17.6M1802.9 726.3h17.6M1802.9 742.1h17.6M1804.4 772.8h17.6M1804.4 788.2h17.6M1805.6 775.5h17.6M1805.6 789.3h17.6M1806.6 778.2h17.6M1806.6 791.2h17.6M1806.6 720.2h17.6M1806.6 746.8h17.6M1807.1 776.7h17.6M1807.1 788.9h17.6M1808.7 776.8h17.6M1808.7 786.8h17.6M1809.6 778.4h17.6M1809.6 790.3h17.6M1810.6 729.9h17.6M1810.6 736.2h17.6M1814.2 767.1h17.6M1814.2 780.1h17.6M1816 773.6h17.6M1816 781h17.6M1817.5 768.6h17.6M1817.5 782.4h17.6M1818.4 762.6h17.6M1818.4 780.4h17.6M1818.5 713.5h17.6M1818.5 720.5h17.6M1819.1 765.1h17.6M1819.1 774.8h17.6M1819.1 768.6h17.6M1819.1 782.5h17.6M1819.4 705.9h17.6M1819.4 723.2h17.6M1819.8 704.6h17.6M1819.8 717.5h17.6M1826.9 730.7h17.6M1826.9 745h17.6M1828.3 729.1h17.6M1828.3 740.9h17.6M1829.4 726.7h17.6M1829.4 737.9h17.6M1831.3 753.5h17.6M1831.3 763.7h17.6M1832.2 746.2h17.6M1832.2 762h17.6M1834.2 748.8h17.6M1834.2 760.7h17.6M1835.1 774.2h17.6M1835.1 785.1h17.6M1836.2 760.7h17.6M1836.2 774.5h17.6M1836.2 768.6h17.6M1836.2 800.1h17.6M1837.9 764.6h17.6M1837.9 778.6h17.6M1838 730h17.6M1838 738.6h17.6M1838.1 697h17.6M1838.1 709.7h17.6M1838.1 765.1h17.6M1838.1 771.3h17.6M1838.2 726.1h17.6M1838.2 739.9h17.6M1838.3 778.3h17.6M1838.3 793.6h17.6M1839.2 692.6h17.6M1839.2 710.3h17.6M1839.3 663.1h17.6M1839.3 672.8h17.6M1840.4 712.3h17.6M1840.4 721.7h17.6M1841.7 733.2h17.6M1841.7 740.8h17.6M1841.9 668.1h17.6M1841.9 680.7h17.6M1842 680.2h17.6M1842 687.6h17.6M1842.1 655.2h17.6M1842.1 690.6h17.6M1843 698.3h17.6M1843 707.9h17.6M1843.6 682.1h17.6M1843.6 689.7h17.6M1844.1 713.3h17.6M1844.1 725.1h17.6M1845.1 677.8h17.6M1845.1 691.6h17.6M1845.1 739.2h17.6M1845.1 752.2h17.6M1845.2 709.4h17.6M1845.2 720h17.6M1847.1 737h17.6M1847.1 750.8h17.6M1848.7 736.6h17.6M1848.7 745.5h17.6M1850.6 711.7h17.6M1850.6 722.4h17.6M1851.9 692h17.6M1851.9 701.6h17.6M1853 712.3h17.6M1853 726.1h17.6M1854 747.8h17.6M1854 764.6h17.6M1854.1 670.5h17.6M1854.1 683.4h17.6M1854.4 748.4h17.6M1854.4 763.6h17.6M1855 693.6h17.6M1855 705.4h17.6M1855 697.1h17.6M1855 708.1h17.6M1855.9 667.9h17.6M1855.9 679.7h17.6M1856.2 730.4h17.6M1856.2 739.2h17.6M1856.6 711.2h17.6M1856.6 726.8h17.6M1856.8 668.1h17.6M1856.8 680.7h17.6M1857.2 720.6h17.6M1857.2 730.2h17.6M1857.4 716.1h17.6M1857.4 731.2h17.6M1857.7 752.3h17.6M1857.7 762.4h17.6M1857.9 725.1h17.6M1857.9 737h17.6M1859.9 676.8h17.6M1859.9 688.6h17.6M1859.9 715.3h17.6M1859.9 727.1h17.6M1860.1 701.5h17.6M1860.1 711.8h17.6M1861.5 674.4h17.6M1861.5 682.1h17.6M1861.5 724.7h17.6M1861.5 737.7h17.6M1862 665.5h17.6M1862 673.1h17.6M1862.4 676.6h17.6M1862.4 686.8h17.6M1863.8 696.5h17.6M1863.8 710.3h17.6M1864 695.5h17.6M1864 705.8h17.6M1864.5 606.8h17.6M1864.5 662.1h17.6M1864.8 663h17.6M1864.8 676.8h17.6M1865 629.5h17.6M1865 638.4h17.6M1866 687h17.6M1866 702.7h17.6M1866.8 629.8h17.6M1866.8 637.2h17.6M1867.4 633.8h17.6M1867.4 641.9h17.6M1867.5 625.2h17.6M1867.5 634.3h17.6M1867.9 633.9h17.6M1867.9 643.5h17.6M1868.1 658.4h17.6M1868.1 672.6h17.6M1869.8 686.6h17.6M1869.8 698.5h17.6M1869.8 655.3h17.6M1869.8 668.2h17.6M1869.9 652.2h17.6M1869.9 664.1h17.6M1870.5 687.4h17.6M1870.5 697.3h17.6M1871.6 648.3h17.6M1871.6 663.6h17.6M1873.2 682.3h17.6M1873.2 693.4h17.6M1873.4 680.8h17.6M1873.4 696.3h17.6M1874.1 619.5h17.6M1874.1 628.1h17.6M1874.2 664.1h17.6M1874.2 673.5h17.6M1874.8 615.7h17.6M1874.8 629.5h17.6M1874.8 642.4h17.6M1874.8 654.2h17.6M1875.1 642.1h17.6M1875.1 653.4h17.6M1875.6 596.7h17.6M1875.6 605.9h17.6M1875.9 626.4h17.6M1875.9 634h17.6M1876 645.8h17.6M1876 656.8h17.6M1876.7 677.8h17.6M1876.7 689.6h17.6M1876.8 591.1h17.6M1876.8 606.8h17.6M1876.9 667.2h17.6M1876.9 673.4h17.6M1877.6 616.8h17.6M1877.6 630.6h17.6M1877.7 660h17.6M1877.7 673.8h17.6M1879.5 583.8h17.6M1879.5 594.8h17.6M1879.8 626.6h17.6M1879.8 640.4h17.6M1880.6 593.1h17.6M1880.6 605.9h17.6M1880.8 644.8h17.6M1880.8 656h17.6M1880.9 621.9h17.6M1880.9 629.6h17.6M1881 616.5h17.6M1881 626.4h17.6M1881.5 627.5h17.6M1881.5 635.4h17.6M1881.7 578.2h17.6M1881.7 592h17.6M1881.7 614.7h17.6M1881.7 630.5h17.6M1881.7 644.3h17.6M1881.7 658.2h17.6M1881.8 590.5h17.6M1881.8 601.9h17.6M1882.8 644.8h17.6M1882.8 657.1h17.6M1883.3 576.4h17.6M1883.3 587.1h17.6M1884.7 593h17.6M1884.7 602.1h17.6M1884.7 593h17.6M1884.7 604.9h17.6M1884.9 550.7h17.6M1884.9 560h17.6M1885.1 624.3h17.6M1885.1 638.9h17.6M1885.3 618.2h17.6M1885.3 634h17.6M1885.7 548.5h17.6M1885.7 561.1h17.6M1886.2 530.4h17.6M1886.2 585.6h17.6M1886.2 602.8h17.6M1886.2 615.2h17.6M1886.8 609h17.6M1886.8 624h17.6M1887.3 581.5h17.6M1887.3 595.8h17.6M1887.4 551.8h17.6M1887.4 562.1h17.6M1887.4 584.6h17.6M1887.4 598.2h17.6M1887.6 590.4h17.6M1887.6 604.4h17.6M1887.7 579.2h17.6M1887.7 591.1h17.6M1887.7 606.8h17.6M1887.7 618.7h17.6M1887.7 622.6h17.6M1887.7 634.5h17.6M1887.7 627.6h17.6M1887.7 639.4h17.6M1887.8 616.9h17.6M1887.8 631.3h17.6M1887.9 600.3h17.6M1887.9 612.3h17.6M1888.5 584.3h17.6M1888.5 592.8h17.6M1888.5 623.1h17.6M1888.5 635.9h17.6M1888.8 586.5h17.6M1888.8 599.1h17.6M1889.1 541.2h17.6M1889.1 579.2h17.6M1889.6 584.1h17.6M1889.6 598h17.6M1889.6 595h17.6M1889.6 608.8h17.6M1890.7 550.2h17.6M1890.7 559.8h17.6"/>
<g><rect x="758.6" y="782.6" width="8.7" height="8.7" class="sg"/><rect x="775.1" y="784.1" width="8.7" height="8.7" class="sg"/><rect x="790.9" y="779.2" width="8.7" height="8.7" class="sg"/><rect x="808" y="799.2" width="8.7" height="8.7" class="sg"/><rect x="816.1" y="781.8" width="8.7" height="8.7" class="sg"/><rect x="824.1" y="787.7" width="8.7" height="8.7" class="sg"/><rect x="840.9" y="788.9" width="8.7" height="8.7" class="sg"/><rect x="857.4" y="757.6" width="8.7" height="8.7" class="sg"/><rect x="874.1" y="790.1" width="8.7" height="8.7" class="sg"/><rect x="890.9" y="787.5" width="8.7" height="8.7" class="sg"/><rect x="908.2" y="743.1" width="8.7" height="8.7" class="sg"/><rect x="924.9" y="784.1" width="8.7" height="8.7" class="sg"/><rect x="942.1" y="783.1" width="8.7" height="8.7" class="sg"/><rect x="959" y="780.8" width="8.7" height="8.7" class="sg"/><rect x="967.3" y="762.3" width="8.7" height="8.7" class="sg"/><rect x="975.8" y="770.6" width="8.7" height="8.7" class="sg"/><rect x="992.5" y="779.8" width="8.7" height="8.7" class="sg"/><rect x="999.4" y="763.5" width="8.7" height="8.7" class="sg"/><rect x="1008.3" y="763.5" width="8.7" height="8.7" class="sg"/><rect x="1009.3" y="755.4" width="8.7" height="8.7" class="sg"/><rect x="1022.1" y="736.8" width="8.7" height="8.7" class="sg"/><rect x="1026.5" y="743.1" width="8.7" height="8.7" class="sg"/><rect x="1036.1" y="751.9" width="8.7" height="8.7" class="sg"/><rect x="1042.8" y="743.9" width="8.7" height="8.7" class="sg"/><rect x="1046.7" y="761" width="8.7" height="8.7" class="sg"/><rect x="1051.2" y="727.8" width="8.7" height="8.7" class="sg"/><rect x="1051.5" y="737.9" width="8.7" height="8.7" class="sg"/><rect x="1044.8" y="783.6" width="8.7" height="8.7" class="sg"/><rect x="1067.5" y="713.7" width="8.7" height="8.7" class="sg"/><rect x="1073" y="746" width="8.7" height="8.7" class="sg"/><rect x="1078.2" y="729.5" width="8.7" height="8.7" class="sg"/><rect x="1083.9" y="711.9" width="8.7" height="8.7" class="sg"/><rect x="1083.4" y="716.7" width="8.7" height="8.7" class="sg"/><rect x="1092.4" y="717" width="8.7" height="8.7" class="sg"/><rect x="1100.7" y="708.8" width="8.7" height="8.7" class="sg"/><rect x="1104.4" y="701.3" width="8.7" height="8.7" class="sg"/><rect x="1117.4" y="710" width="8.7" height="8.7" class="sg"/><rect x="1117.4" y="719.6" width="8.7" height="8.7" class="sg"/><rect x="1127.2" y="707" width="8.7" height="8.7" class="sg"/><rect x="1133.4" y="716.4" width="8.7" height="8.7" class="sg"/><rect x="1144.9" y="729.2" width="8.7" height="8.7" class="sg"/><rect x="1150.1" y="719.2" width="8.7" height="8.7" class="sg"/><rect x="1151.3" y="690.2" width="8.7" height="8.7" class="sg"/><rect x="1167.5" y="727.8" width="8.7" height="8.7" class="sg"/><rect x="1171.2" y="705.1" width="8.7" height="8.7" class="sg"/><rect x="1180.6" y="721.1" width="8.7" height="8.7" class="sg"/><rect x="1184.3" y="712.6" width="8.7" height="8.7" class="sg"/><rect x="1190.6" y="702.1" width="8.7" height="8.7" class="sg"/><rect x="1201.8" y="727.1" width="8.7" height="8.7" class="sg"/><rect x="1203.2" y="688.1" width="8.7" height="8.7" class="sg"/><rect x="1205.8" y="733" width="8.7" height="8.7" class="sg"/><rect x="1213.7" y="733" width="8.7" height="8.7" class="sg"/><rect x="1218.6" y="696.3" width="8.7" height="8.7" class="sg"/><rect x="1220.4" y="736" width="8.7" height="8.7" class="sg"/><rect x="1226.8" y="706.5" width="8.7" height="8.7" class="sg"/><rect x="1235.5" y="725.3" width="8.7" height="8.7" class="sg"/><rect x="1238.7" y="742.7" width="8.7" height="8.7" class="sg"/><rect x="1251.9" y="733" width="8.7" height="8.7" class="sg"/><rect x="1253.1" y="763.5" width="8.7" height="8.7" class="sg"/><rect x="1259.8" y="747.9" width="8.7" height="8.7" class="sg"/><rect x="1262" y="723.5" width="8.7" height="8.7" class="sg"/><rect x="1266.2" y="707.3" width="8.7" height="8.7" class="sg"/><rect x="1274.7" y="724.5" width="8.7" height="8.7" class="sg"/><rect x="1284" y="740.9" width="8.7" height="8.7" class="sg"/><rect x="1291.3" y="727.5" width="8.7" height="8.7" class="sg"/><rect x="1285.7" y="740.8" width="8.7" height="8.7" class="sg"/><rect x="1300.5" y="731.8" width="8.7" height="8.7" class="sg"/><rect x="1306.2" y="740" width="8.7" height="8.7" class="sg"/><rect x="1314.2" y="717.4" width="8.7" height="8.7" class="sg"/><rect x="1322.1" y="731.5" width="8.7" height="8.7" class="sg"/><rect x="1330.7" y="728.6" width="8.7" height="8.7" class="sg"/><rect x="1341" y="723.8" width="8.7" height="8.7" class="sg"/><rect x="1352.2" y="740.5" width="8.7" height="8.7" class="sg"/><rect x="1359" y="727.4" width="8.7" height="8.7" class="sg"/><rect x="1371.2" y="718.4" width="8.7" height="8.7" class="sg"/><rect x="1379.7" y="734.1" width="8.7" height="8.7" class="sg"/><rect x="1383.9" y="743.4" width="8.7" height="8.7" class="sg"/><rect x="1392.3" y="719.6" width="8.7" height="8.7" class="sg"/><rect x="1406.3" y="726" width="8.7" height="8.7" class="sg"/><rect x="1413.2" y="756.8" width="8.7" height="8.7" class="sg"/><rect x="1421.8" y="729" width="8.7" height="8.7" class="sg"/><rect x="1428.5" y="757.1" width="8.7" height="8.7" class="sg"/><rect x="1438.2" y="765.8" width="8.7" height="8.7" class="sg"/><rect x="1446.4" y="743.4" width="8.7" height="8.7" class="sg"/><rect x="1458.3" y="776.2" width="8.7" height="8.7" class="sg"/><rect x="1466.9" y="739.3" width="8.7" height="8.7" class="sg"/><rect x="1472.4" y="746.1" width="8.7" height="8.7" class="sg"/><rect x="1481.3" y="753.9" width="8.7" height="8.7" class="sg"/><rect x="1490.6" y="762" width="8.7" height="8.7" class="sg"/><rect x="1498.7" y="718.4" width="8.7" height="8.7" class="sg"/><rect x="1510.4" y="718.9" width="8.7" height="8.7" class="sg"/><rect x="1516.6" y="715.2" width="8.7" height="8.7" class="sg"/><rect x="1526.7" y="727.1" width="8.7" height="8.7" class="sg"/><rect x="1532.1" y="704.3" width="8.7" height="8.7" class="sg"/><rect x="1544.6" y="737.5" width="8.7" height="8.7" class="sg"/><rect x="1550.2" y="712.2" width="8.7" height="8.7" class="sg"/><rect x="1560.9" y="716.2" width="8.7" height="8.7" class="sg"/><rect x="1572.1" y="703.7" width="8.7" height="8.7" class="sg"/><rect x="1578.8" y="737.9" width="8.7" height="8.7" class="sg"/><rect x="1590.8" y="730.7" width="8.7" height="8.7" class="sg"/><rect x="1587.9" y="747.4" width="8.7" height="8.7" class="sg"/><rect x="1599.7" y="770.1" width="8.7" height="8.7" class="sg"/><rect x="1600.7" y="779.7" width="8.7" height="8.7" class="sg"/><rect x="1593.5" y="793.3" width="8.7" height="8.7" class="sg"/><rect x="1611.8" y="761.2" width="8.7" height="8.7" class="sg"/><rect x="1617.5" y="791.1" width="8.7" height="8.7" class="sg"/><rect x="1619.2" y="811.8" width="8.7" height="8.7" class="sg"/><rect x="1625.3" y="779.7" width="8.7" height="8.7" class="sg"/><rect x="1630.8" y="773.3" width="8.7" height="8.7" class="sg"/><rect x="1633.7" y="761.9" width="8.7" height="8.7" class="sg"/><rect x="1634.5" y="808.1" width="8.7" height="8.7" class="sg"/><rect x="1642.9" y="802.9" width="8.7" height="8.7" class="sg"/><rect x="1650.8" y="779.3" width="8.7" height="8.7" class="sg"/><rect x="1660.1" y="784.7" width="8.7" height="8.7" class="sg"/><rect x="1662.9" y="819.5" width="8.7" height="8.7" class="sg"/><rect x="1669.7" y="823.7" width="8.7" height="8.7" class="sg"/><rect x="1676.7" y="797" width="8.7" height="8.7" class="sg"/><rect x="1678.1" y="805.2" width="8.7" height="8.7" class="sg"/><rect x="1689" y="807.7" width="8.7" height="8.7" class="sg"/><rect x="1695.9" y="798.9" width="8.7" height="8.7" class="sg"/><rect x="1695.9" y="806.6" width="8.7" height="8.7" class="sg"/><rect x="1710.7" y="796.3" width="8.7" height="8.7" class="sg"/><rect x="1720" y="761.8" width="8.7" height="8.7" class="sg"/><rect x="1721.8" y="772.6" width="8.7" height="8.7" class="sg"/><rect x="1730" y="809.6" width="8.7" height="8.7" class="sg"/><rect x="1745.5" y="790.4" width="8.7" height="8.7" class="sg"/><rect x="1754.1" y="768.9" width="8.7" height="8.7" class="sg"/><rect x="1765" y="791.5" width="8.7" height="8.7" class="sg"/><rect x="1868.3" y="657.1" width="8.7" height="8.7" class="sg"/><rect x="1818.9" y="708.9" width="8.7" height="8.7" class="sg"/><rect x="1824.9" y="709.9" width="8.7" height="8.7" class="sg"/><rect x="1833.7" y="718.8" width="8.7" height="8.7" class="sg"/><rect x="1799.7" y="731.6" width="8.7" height="8.7" class="sg"/><rect x="1808.1" y="731.1" width="8.7" height="8.7" class="sg"/><rect x="1788.8" y="740.5" width="8.7" height="8.7" class="sg"/><rect x="1780.5" y="736.1" width="8.7" height="8.7" class="sg"/><rect x="1798.7" y="755.5" width="8.7" height="8.7" class="sg"/><rect x="1772.6" y="767" width="8.7" height="8.7" class="sg"/><rect x="1781.4" y="768" width="8.7" height="8.7" class="sg"/><rect x="1765.7" y="790.4" width="8.7" height="8.7" class="sg"/><rect x="1894.6" y="572.7" width="8.7" height="8.7" class="sg"/><rect x="1887.2" y="598.4" width="8.7" height="8.7" class="sg"/><rect x="1879.1" y="625.4" width="8.7" height="8.7" class="sg"/></g>
<g><rect x="980.8" y="801.8" width="8.7" height="8.7" class="sw"/><rect x="1016.5" y="777.4" width="8.7" height="8.7" class="sw"/><rect x="1020.5" y="797.8" width="8.7" height="8.7" class="sw"/><rect x="1028.7" y="788.1" width="8.7" height="8.7" class="sw"/><rect x="1044.5" y="818.3" width="8.7" height="8.7" class="sw"/><rect x="1055.9" y="804.2" width="8.7" height="8.7" class="sw"/><rect x="1058.6" y="756.1" width="8.7" height="8.7" class="sw"/><rect x="1071.1" y="763.8" width="8.7" height="8.7" class="sw"/><rect x="1100.7" y="765.8" width="8.7" height="8.7" class="sw"/><rect x="1112.2" y="753.1" width="8.7" height="8.7" class="sw"/><rect x="1116.9" y="750.6" width="8.7" height="8.7" class="sw"/><rect x="1127" y="729.8" width="8.7" height="8.7" class="sw"/><rect x="1143" y="742.7" width="8.7" height="8.7" class="sw"/><rect x="1154.6" y="735" width="8.7" height="8.7" class="sw"/><rect x="1184.3" y="755.6" width="8.7" height="8.7" class="sw"/><rect x="1188.7" y="763.1" width="8.7" height="8.7" class="sw"/><rect x="1196.8" y="739.4" width="8.7" height="8.7" class="sw"/><rect x="1198.5" y="711.8" width="8.7" height="8.7" class="sw"/><rect x="1209.9" y="744.2" width="8.7" height="8.7" class="sw"/><rect x="1239.7" y="726.8" width="8.7" height="8.7" class="sw"/><rect x="1252.3" y="745.4" width="8.7" height="8.7" class="sw"/><rect x="1254.1" y="728.1" width="8.7" height="8.7" class="sw"/><rect x="1266.2" y="739.7" width="8.7" height="8.7" class="sw"/><rect x="1295.3" y="762.3" width="8.7" height="8.7" class="sw"/><rect x="1308" y="757.1" width="8.7" height="8.7" class="sw"/><rect x="1309.5" y="731.1" width="8.7" height="8.7" class="sw"/><rect x="1320.6" y="770.2" width="8.7" height="8.7" class="sw"/><rect x="1337" y="751.3" width="8.7" height="8.7" class="sw"/><rect x="1349.3" y="722.9" width="8.7" height="8.7" class="sw"/><rect x="1350.7" y="761.6" width="8.7" height="8.7" class="sw"/><rect x="1363.3" y="742" width="8.7" height="8.7" class="sw"/><rect x="1392" y="762" width="8.7" height="8.7" class="sw"/><rect x="1404.3" y="753.9" width="8.7" height="8.7" class="sw"/><rect x="1433" y="770.7" width="8.7" height="8.7" class="sw"/><rect x="1445.6" y="711.8" width="8.7" height="8.7" class="sw"/><rect x="1446.7" y="756.8" width="8.7" height="8.7" class="sw"/><rect x="1459" y="764.6" width="8.7" height="8.7" class="sw"/><rect x="1474.2" y="778.9" width="8.7" height="8.7" class="sw"/><rect x="1486.1" y="788.8" width="8.7" height="8.7" class="sw"/><rect x="1501.7" y="749.8" width="8.7" height="8.7" class="sw"/><rect x="1513.3" y="753.9" width="8.7" height="8.7" class="sw"/><rect x="1528.5" y="784.4" width="8.7" height="8.7" class="sw"/><rect x="1540.9" y="743.4" width="8.7" height="8.7" class="sw"/><rect x="1554.3" y="776.2" width="8.7" height="8.7" class="sw"/><rect x="1582.5" y="747.9" width="8.7" height="8.7" class="sw"/><rect x="1594.8" y="780.4" width="8.7" height="8.7" class="sw"/><rect x="1609.6" y="788.9" width="8.7" height="8.7" class="sw"/><rect x="1620.1" y="797.3" width="8.7" height="8.7" class="sw"/><rect x="1636.3" y="764.7" width="8.7" height="8.7" class="sw"/><rect x="1649.3" y="784" width="8.7" height="8.7" class="sw"/><rect x="1662.3" y="797.8" width="8.7" height="8.7" class="sw"/><rect x="1675.9" y="816.3" width="8.7" height="8.7" class="sw"/><rect x="1689.3" y="785.5" width="8.7" height="8.7" class="sw"/><rect x="1715.2" y="785.2" width="8.7" height="8.7" class="sw"/><rect x="1728.5" y="776.7" width="8.7" height="8.7" class="sw"/><rect x="1741.8" y="784.1" width="8.7" height="8.7" class="sw"/><rect x="1754.8" y="835.2" width="8.7" height="8.7" class="sw"/><rect x="1857.9" y="675.9" width="8.7" height="8.7" class="sw"/><rect x="1845.6" y="683.8" width="8.7" height="8.7" class="sw"/><rect x="1835.7" y="711.9" width="8.7" height="8.7" class="sw"/><rect x="1779.5" y="729.2" width="8.7" height="8.7" class="sw"/><rect x="1819.9" y="746.4" width="8.7" height="8.7" class="sw"/><rect x="1832.8" y="748.4" width="8.7" height="8.7" class="sw"/><rect x="1807.1" y="769.3" width="8.7" height="8.7" class="sw"/><rect x="1793.8" y="787.9" width="8.7" height="8.7" class="sw"/><rect x="1768.1" y="797.8" width="8.7" height="8.7" class="sw"/><rect x="1870.9" y="648.4" width="8.7" height="8.7" class="sw"/><rect x="1883.7" y="645.4" width="8.7" height="8.7" class="sw"/></g>
<g><path d="M981.2 800.9l8.5 14.6h-17z" class="ty"/><path d="M1216.8 765.4l8.5 14.6h-17z" class="ty"/><path d="M1242 764.3l8.5 14.6h-17z" class="ty"/><path d="M1329 770.3l8.5 14.6h-17z" class="ty"/><path d="M1368.9 761l8.5 14.6h-17z" class="ty"/><path d="M1383.5 741.7l8.5 14.6h-17z" class="ty"/><path d="M1459.6 776.7l8.5 14.6h-17z" class="ty"/><path d="M1455.5 773.7l8.5 14.6h-17z" class="ty"/><path d="M1583.5 782.9l8.5 14.6h-17z" class="ty"/><path d="M1578.7 779.3l8.5 14.6h-17z" class="ty"/><path d="M1638.1 785.9l8.5 14.6h-17z" class="ty"/><path d="M1717.3 806.4l8.5 14.6h-17z" class="ty"/><path d="M1708.1 807.1l8.5 14.6h-17z" class="ty"/><path d="M1740.7 787.9l8.5 14.6h-17z" class="ty"/></g>
<g><path d="M1349.1 771.8l8.5 14.6h-17z" class="tb"/><path d="M1404.3 765.8l8.5 14.6h-17z" class="tb"/><path d="M1512.2 755.2l8.5 14.6h-17z" class="tb"/><path d="M1558.3 780.2l8.5 14.6h-17z" class="tb"/><path d="M1584.2 812.8l8.5 14.6h-17z" class="tb"/><path d="M1599.2 844.3l8.5 14.6h-17z" class="tb"/><path d="M1617.4 827.2l8.5 14.6h-17z" class="tb"/><path d="M1636.6 836.7l8.5 14.6h-17z" class="tb"/><path d="M1655.9 856.2l8.5 14.6h-17z" class="tb"/><path d="M1674.4 853.3l8.5 14.6h-17z" class="tb"/><path d="M1709.1 830l8.5 14.6h-17z" class="tb"/><path d="M1744.2 810.4l8.5 14.6h-17z" class="tb"/><path d="M1850.1 689.7l8.5 14.6h-17z" class="tb"/><path d="M1826.3 731.1l8.5 14.6h-17z" class="tb"/><path d="M1796.8 774l8.5 14.6h-17z" class="tb"/></g>
<path class="eb" d="M200.3 1281V1299.3M214.4 1284.7V1317M220.8 1284.7V1311M284.8 1274V1292.4M310.1 1267.1V1293.6M318.1 1278V1292.1M339 1272V1289.6M359.9 1278.3V1305.2M398.6 1261.6V1289.1M425.1 1289.1V1315.9M476.2 1293.8V1321.1M526.1 1272V1299.3M555 1269V1296.6M587.9 1240V1266.1M593.4 1253V1275M617.9 1247.5V1265M649.2 1250.4V1276.9M671.2 1264.1V1282M702 1271.3V1307.7M733.5 1268.6V1286.6M761.5 1257.9V1276.2M793 1254.6V1281M851.3 1265V1291.7M903.1 1249V1266.4M941.1 1257.1V1284.7M982.7 1263.1V1281M1007.2 1248.8V1275.2M1063 1217.1V1233.5M1070.8 1220.9V1237.2M1082.7 1224.9V1246.9M1092.4 1242.4V1260.3M1093.8 1252.1V1274M1137.3 1221.9V1240.7M1166.3 1209V1230.8M1185.7 1204.5V1223.1M1218.1 1214.2V1230.2M1270.2 1242.4V1267M1276.1 1232V1249.9M1294.7 1209.1V1226.9M1323.5 1204.9V1222.8M1344.8 1228V1248.8M1362.7 1233.9V1251.8M1367.9 1235.7V1267.9M1374.3 1233.2V1251.8M1404 1222.8V1243.6M1423.7 1237.2V1256M1441.2 1194.8V1213.1M1442.6 1222.9V1255.2M1461.6 1209.1V1229.5M1481.3 1224.7V1254.8M1511.9 1202.7V1218.3M1542 1199V1220.1M1556.1 1186.3V1207.1M1559 1186.7V1203.3M1559 1193.8V1208.7M1568.6 1170V1187.9M1580.5 1209V1231.3M1596 1228.3V1245M1598.9 1241.4V1255.7M1611.4 1237.9V1252.1M1616.8 1218.8V1237.9M1635.2 1211.1V1230.1M1647.1 1206.7V1224.8M1656.1 1227.7V1242.6M1687.6 1200.4V1221.8M1696 1215.2V1231.9M1698.9 1226V1241.4M1707.9 1218.8V1235.5M1715.4 1243.2V1278.9M1725.7 1233.1V1249.8M1728.1 1223.6V1241.4M1732.9 1197.4V1215.2M1737.6 1184.3V1201M1744.8 1180.7V1199.8M1753.1 1202.1V1218.8M1754.3 1183.1V1202.1M1766.2 1191.4V1208.1M1767.4 1181.9V1201M1773.8 1164.2V1177.1M1775.7 1159.3V1178.3M1778.5 1161.5V1169.8M1782 1173.4V1180.7M1782.6 1164.8V1176.3M1782.9 1172.9V1190.5M1785.1 1159.8V1181.7M1785.5 1174.4V1183.4M1785.9 1158.9V1172.7M1796.4 1176.3V1183.4M1798 1168.9V1179.3M1798.2 1161.7V1176.5M1799.3 1163.1V1189.9M1799.3 1160.9V1178.4M1803.3 1159.4V1170.8M1807.4 1135.7V1150.3M1808.6 1140.5V1150.2M1811.4 1136.8V1154.3M1814.5 1150V1158.1M1815 1158.2V1167.4M1815.8 1142.2V1159.8M1817.5 1145V1160.4M1818 1149.9V1170.2M1821.1 1156.6V1163.9M1821.3 1125.8V1143.3M1821.4 1133.6V1144M1821.9 1128.6V1143M1828.9 1115.9V1133.5M1829.2 1122.1V1133.5M1832.1 1117.2V1124.5M1832.7 1097.9V1112.2M1833.3 1095.1V1112.6M1835.1 1095V1108.6M1835.5 1108.2V1125.8M1837.3 1106.5V1119.7M1837.7 1118.2V1124.5M1838.5 1115V1129.1M1839.4 1125.9V1134.9M1841 1111.5V1140M1841.2 1094.6V1109.1M1842.5 1096.5V1110.1M1843.2 1089.6V1107.1M1844.4 1088.2V1097.1M1845.5 1086.4V1103.9M1845.6 1099.4V1115.4M1848.3 1086.8V1098.7M1848.5 1100.1V1113.9M1848.7 1100.6V1118.1M1850.8 1092.7V1099.1M1852.4 1086.4V1100M1852.5 1076.8V1084M1852.9 1085.2V1095.8M1853 1078.1V1087.1M1853.1 1084.1V1101.7M1853.2 1080V1091.2M1853.2 1070V1091.9M1853.2 1088.6V1106.1M1854.9 1067.1V1079.1M1855.3 1079.1V1088.7M1855.5 1094.5V1109.9M1856.3 1089.3V1097.2M1856.5 1067.2V1083.7M1857.1 1095.8V1102M1857.1 1083.3V1098.4M1857.5 1095.1V1113.7M1858.7 1073.2V1095.2M1860.9 1079.8V1101.8M1861.4 1074.6V1083.9M1861.5 1060.6V1067.7M1861.5 1063.8V1070.8M1862 1051.8V1064.2M1862 1060.1V1077.6M1862.4 1066.1V1072.5M1862.8 1082V1094.8M1864.2 1053.5V1071.1M1865.3 1037.1V1054.6M1865.3 1043.1V1063.9M1865.9 1049.6V1059.2M1866.9 1031V1045.7M1867.1 1047.4V1056.4M1868.1 1038V1051.2M1868.4 1044.8V1052.9M1868.6 1022.8V1040.4M1869.6 1030.5V1048M1872 1023.3V1030.7M1872.1 1036.4V1048.8M1872.2 1023.9V1037.1M1872.2 1055.5V1067.5M1873 1019.5V1027.4M1874.1 1015.6V1028.1M1875.1 1017.7V1034.9M1875.1 1048V1065.6M1876.9 1047.8V1060M1878.6 1014.2V1026.2M1879.8 1011.5V1022.4M1880.6 1011.8V1029.4M1884.3 1009.5V1019.9M1884.6 1004.4V1015.6M1885 996.5V1014M1886.1 981.7V1004.7M1886.5 999.1V1012.5M1887.2 1004.2V1021.7M1887.6 1000.3V1016.2M1888.9 986.3V999.8M1889.7 991.9V1000.4M1890.9 983.3V997.4M1893.8 976.8V996.5M1894.1 967.5V975.7M1894.2 961.9V975.2M1894.3 988.8V996M1894.3 971.1V985.5M1894.9 985.5V1003.1M1895.4 988.8V998.4M1896 970.2V987.7M1896.2 983.2V996.6M1896.8 969.7V978.5M1897.1 951V991.6"/>
<g class="c"><circle cx="200.3" cy="1290.2" r="8.85"/><circle cx="214.4" cy="1300.6" r="8.85"/><circle cx="220.8" cy="1297.8" r="8.85"/><circle cx="284.8" cy="1283.2" r="8.85"/><circle cx="310.1" cy="1280.2" r="8.85"/><circle cx="318.1" cy="1285.1" r="8.85"/><circle cx="339" cy="1280.2" r="8.85"/><circle cx="359.9" cy="1291.7" r="8.85"/><circle cx="398.6" cy="1275.4" r="8.85"/><circle cx="425.1" cy="1302.5" r="8.85"/><circle cx="476.2" cy="1307.4" r="8.85"/><circle cx="526.1" cy="1285.7" r="8.85"/><circle cx="555" cy="1282.4" r="8.85"/><circle cx="587.9" cy="1252.7" r="8.85"/><circle cx="593.4" cy="1264.1" r="8.85"/><circle cx="617.9" cy="1256.4" r="8.85"/><circle cx="649.2" cy="1263.8" r="8.85"/><circle cx="671.2" cy="1273.1" r="8.85"/><circle cx="702" cy="1289.4" r="8.85"/><circle cx="733.5" cy="1277.7" r="8.85"/><circle cx="761.5" cy="1267.1" r="8.85"/><circle cx="793" cy="1268" r="8.85"/><circle cx="851.3" cy="1278.3" r="8.85"/><circle cx="903.1" cy="1257.4" r="8.85"/><circle cx="941.1" cy="1270.8" r="8.85"/><circle cx="982.7" cy="1272" r="8.85"/><circle cx="1007.2" cy="1262.1" r="8.85"/><circle cx="1063" cy="1225.3" r="8.85"/><circle cx="1070.8" cy="1229" r="8.85"/><circle cx="1082.7" cy="1236" r="8.85"/><circle cx="1092.4" cy="1251.4" r="8.85"/><circle cx="1093.8" cy="1263.3" r="8.85"/><circle cx="1137.3" cy="1231.3" r="8.85"/><circle cx="1166.3" cy="1219.4" r="8.85"/><circle cx="1185.7" cy="1213.7" r="8.85"/><circle cx="1218.1" cy="1222.6" r="8.85"/><circle cx="1270.2" cy="1254.3" r="8.85"/><circle cx="1276.1" cy="1241" r="8.85"/><circle cx="1294.7" cy="1217.9" r="8.85"/><circle cx="1323.5" cy="1213.8" r="8.85"/><circle cx="1344.8" cy="1238.4" r="8.85"/><circle cx="1362.7" cy="1242.9" r="8.85"/><circle cx="1367.9" cy="1251.8" r="8.85"/><circle cx="1374.3" cy="1242.4" r="8.85"/><circle cx="1404" cy="1233.2" r="8.85"/><circle cx="1423.7" cy="1246.6" r="8.85"/><circle cx="1441.2" cy="1203.9" r="8.85"/><circle cx="1442.6" cy="1239.1" r="8.85"/><circle cx="1461.6" cy="1219" r="8.85"/><circle cx="1481.3" cy="1239.9" r="8.85"/><circle cx="1511.9" cy="1210.4" r="8.85"/><circle cx="1542" cy="1209.4" r="8.85"/><circle cx="1556.1" cy="1196.7" r="8.85"/><circle cx="1559" cy="1195" r="8.85"/><circle cx="1559" cy="1201" r="8.85"/><circle cx="1568.6" cy="1178.9" r="8.85"/><circle cx="1580.5" cy="1219.4" r="8.85"/><circle cx="1596" cy="1236.7" r="8.85"/><circle cx="1598.9" cy="1248.6" r="8.85"/><circle cx="1611.4" cy="1245" r="8.85"/><circle cx="1616.8" cy="1228.3" r="8.85"/><circle cx="1635.2" cy="1220.6" r="8.85"/><circle cx="1647.1" cy="1215.8" r="8.85"/><circle cx="1656.1" cy="1235.5" r="8.85"/><circle cx="1687.6" cy="1211.1" r="8.85"/><circle cx="1696" cy="1223.6" r="8.85"/><circle cx="1698.9" cy="1233.7" r="8.85"/><circle cx="1707.9" cy="1227.1" r="8.85"/><circle cx="1715.4" cy="1261.1" r="8.85"/><circle cx="1725.7" cy="1241.4" r="8.85"/><circle cx="1728.1" cy="1232.5" r="8.85"/><circle cx="1732.9" cy="1206.3" r="8.85"/><circle cx="1737.6" cy="1192.6" r="8.85"/><circle cx="1744.8" cy="1190.2" r="8.85"/><circle cx="1753.1" cy="1210.5" r="8.85"/><circle cx="1754.3" cy="1192.6" r="8.85"/><circle cx="1766.2" cy="1199.8" r="8.85"/><circle cx="1767.4" cy="1191.4" r="8.85"/><circle cx="1773.8" cy="1170.7" r="8.85"/><circle cx="1775.7" cy="1168.8" r="8.85"/><circle cx="1778.5" cy="1165.7" r="8.85"/><circle cx="1782" cy="1177" r="8.85"/><circle cx="1782.6" cy="1170.6" r="8.85"/><circle cx="1782.9" cy="1181.7" r="8.85"/><circle cx="1785.1" cy="1170.7" r="8.85"/><circle cx="1785.5" cy="1178.9" r="8.85"/><circle cx="1785.9" cy="1165.8" r="8.85"/><circle cx="1796.4" cy="1179.9" r="8.85"/><circle cx="1798" cy="1174.1" r="8.85"/><circle cx="1798.2" cy="1169.1" r="8.85"/><circle cx="1799.3" cy="1176.2" r="8.85"/><circle cx="1799.3" cy="1169.6" r="8.85"/><circle cx="1803.3" cy="1165.1" r="8.85"/><circle cx="1807.4" cy="1143" r="8.85"/><circle cx="1808.6" cy="1145.3" r="8.85"/><circle cx="1811.4" cy="1145.5" r="8.85"/><circle cx="1814.5" cy="1154" r="8.85"/><circle cx="1815" cy="1162.8" r="8.85"/><circle cx="1815.8" cy="1151" r="8.85"/><circle cx="1817.5" cy="1152.7" r="8.85"/><circle cx="1818" cy="1159.8" r="8.85"/><circle cx="1821.1" cy="1160.2" r="8.85"/><circle cx="1821.3" cy="1134.6" r="8.85"/><circle cx="1821.4" cy="1138.8" r="8.85"/><circle cx="1821.9" cy="1135.8" r="8.85"/><circle cx="1828.9" cy="1124.7" r="8.85"/><circle cx="1829.2" cy="1127.8" r="8.85"/><circle cx="1832.1" cy="1120.8" r="8.85"/><circle cx="1832.7" cy="1105.1" r="8.85"/><circle cx="1833.3" cy="1103.9" r="8.85"/><circle cx="1835.1" cy="1101.8" r="8.85"/><circle cx="1835.5" cy="1117" r="8.85"/><circle cx="1837.3" cy="1113.1" r="8.85"/><circle cx="1837.7" cy="1121.3" r="8.85"/><circle cx="1838.5" cy="1122" r="8.85"/><circle cx="1839.4" cy="1130.4" r="8.85"/><circle cx="1841" cy="1125.8" r="8.85"/><circle cx="1841.2" cy="1101.9" r="8.85"/><circle cx="1842.5" cy="1103.3" r="8.85"/><circle cx="1843.2" cy="1098.4" r="8.85"/><circle cx="1844.4" cy="1092.6" r="8.85"/><circle cx="1845.5" cy="1095.2" r="8.85"/><circle cx="1845.6" cy="1107.4" r="8.85"/><circle cx="1848.3" cy="1092.8" r="8.85"/><circle cx="1848.5" cy="1107" r="8.85"/><circle cx="1848.7" cy="1109.3" r="8.85"/><circle cx="1850.8" cy="1095.9" r="8.85"/><circle cx="1852.4" cy="1093.2" r="8.85"/><circle cx="1852.5" cy="1080.4" r="8.85"/><circle cx="1852.9" cy="1090.5" r="8.85"/><circle cx="1853" cy="1082.6" r="8.85"/><circle cx="1853.1" cy="1092.9" r="8.85"/><circle cx="1853.2" cy="1085.6" r="8.85"/><circle cx="1853.2" cy="1080.9" r="8.85"/><circle cx="1853.2" cy="1097.4" r="8.85"/><circle cx="1854.9" cy="1073.1" r="8.85"/><circle cx="1855.3" cy="1083.9" r="8.85"/><circle cx="1855.5" cy="1102.2" r="8.85"/><circle cx="1856.3" cy="1093.3" r="8.85"/><circle cx="1856.5" cy="1075.4" r="8.85"/><circle cx="1857.1" cy="1098.9" r="8.85"/><circle cx="1857.1" cy="1090.8" r="8.85"/><circle cx="1857.5" cy="1103.9" r="8.85"/><circle cx="1858.7" cy="1084.2" r="8.85"/><circle cx="1860.9" cy="1090.8" r="8.85"/><circle cx="1861.4" cy="1079.3" r="8.85"/><circle cx="1861.5" cy="1064.1" r="8.85"/><circle cx="1861.5" cy="1067.3" r="8.85"/><circle cx="1862" cy="1058" r="8.85"/><circle cx="1862" cy="1068.9" r="8.85"/><circle cx="1862.4" cy="1069.3" r="8.85"/><circle cx="1862.8" cy="1088.4" r="8.85"/><circle cx="1864.2" cy="1062.3" r="8.85"/><circle cx="1865.3" cy="1045.8" r="8.85"/><circle cx="1865.3" cy="1053.5" r="8.85"/><circle cx="1865.9" cy="1054.4" r="8.85"/><circle cx="1866.9" cy="1038.4" r="8.85"/><circle cx="1867.1" cy="1051.9" r="8.85"/><circle cx="1868.1" cy="1044.6" r="8.85"/><circle cx="1868.4" cy="1048.9" r="8.85"/><circle cx="1868.6" cy="1031.6" r="8.85"/><circle cx="1869.6" cy="1039.3" r="8.85"/><circle cx="1872" cy="1027" r="8.85"/><circle cx="1872.1" cy="1042.6" r="8.85"/><circle cx="1872.2" cy="1030.5" r="8.85"/><circle cx="1872.2" cy="1061.5" r="8.85"/><circle cx="1873" cy="1023.5" r="8.85"/><circle cx="1874.1" cy="1021.8" r="8.85"/><circle cx="1875.1" cy="1026.1" r="8.85"/><circle cx="1875.1" cy="1056.8" r="8.85"/><circle cx="1876.9" cy="1053.9" r="8.85"/><circle cx="1878.6" cy="1020.2" r="8.85"/><circle cx="1879.8" cy="1016.9" r="8.85"/><circle cx="1880.6" cy="1020.6" r="8.85"/><circle cx="1884.3" cy="1014.7" r="8.85"/><circle cx="1884.6" cy="1010" r="8.85"/><circle cx="1885" cy="1005.3" r="8.85"/><circle cx="1886.1" cy="993.2" r="8.85"/><circle cx="1886.5" cy="1005.8" r="8.85"/><circle cx="1887.2" cy="1012.9" r="8.85"/><circle cx="1887.6" cy="1008.2" r="8.85"/><circle cx="1888.9" cy="993.1" r="8.85"/><circle cx="1889.7" cy="996.1" r="8.85"/><circle cx="1890.9" cy="990.3" r="8.85"/><circle cx="1893.8" cy="986.6" r="8.85"/><circle cx="1894.1" cy="971.6" r="8.85"/><circle cx="1894.2" cy="968.5" r="8.85"/><circle cx="1894.3" cy="992.4" r="8.85"/><circle cx="1894.3" cy="978.3" r="8.85"/><circle cx="1894.9" cy="994.3" r="8.85"/><circle cx="1895.4" cy="993.6" r="8.85"/><circle cx="1896" cy="978.9" r="8.85"/><circle cx="1896.2" cy="989.9" r="8.85"/><circle cx="1896.8" cy="974.1" r="8.85"/><circle cx="1897.1" cy="971.3" r="8.85"/></g>
<path class="eb" d="M191.5 1281h17.6M191.5 1299.3h17.6M205.6 1284.7h17.6M205.6 1317h17.6M212 1284.7h17.6M212 1311h17.6M276 1274h17.6M276 1292.4h17.6M301.3 1267.1h17.6M301.3 1293.6h17.6M309.3 1278h17.6M309.3 1292.1h17.6M330.2 1272h17.6M330.2 1289.6h17.6M351.1 1278.3h17.6M351.1 1305.2h17.6M389.8 1261.6h17.6M389.8 1289.1h17.6M416.3 1289.1h17.6M416.3 1315.9h17.6M467.4 1293.8h17.6M467.4 1321.1h17.6M517.3 1272h17.6M517.3 1299.3h17.6M546.2 1269h17.6M546.2 1296.6h17.6M579.1 1240h17.6M579.1 1266.1h17.6M584.6 1253h17.6M584.6 1275h17.6M609.1 1247.5h17.6M609.1 1265h17.6M640.4 1250.4h17.6M640.4 1276.9h17.6M662.4 1264.1h17.6M662.4 1282h17.6M693.2 1271.3h17.6M693.2 1307.7h17.6M724.7 1268.6h17.6M724.7 1286.6h17.6M752.7 1257.9h17.6M752.7 1276.2h17.6M784.2 1254.6h17.6M784.2 1281h17.6M842.5 1265h17.6M842.5 1291.7h17.6M894.3 1249h17.6M894.3 1266.4h17.6M932.3 1257.1h17.6M932.3 1284.7h17.6M973.9 1263.1h17.6M973.9 1281h17.6M998.4 1248.8h17.6M998.4 1275.2h17.6M1054.2 1217.1h17.6M1054.2 1233.5h17.6M1062 1220.9h17.6M1062 1237.2h17.6M1073.9 1224.9h17.6M1073.9 1246.9h17.6M1083.6 1242.4h17.6M1083.6 1260.3h17.6M1085 1252.1h17.6M1085 1274h17.6M1128.5 1221.9h17.6M1128.5 1240.7h17.6M1157.5 1209h17.6M1157.5 1230.8h17.6M1176.9 1204.5h17.6M1176.9 1223.1h17.6M1209.3 1214.2h17.6M1209.3 1230.2h17.6M1261.4 1242.4h17.6M1261.4 1267h17.6M1267.3 1232h17.6M1267.3 1249.9h17.6M1285.9 1209.1h17.6M1285.9 1226.9h17.6M1314.7 1204.9h17.6M1314.7 1222.8h17.6M1336 1228h17.6M1336 1248.8h17.6M1353.9 1233.9h17.6M1353.9 1251.8h17.6M1359.1 1235.7h17.6M1359.1 1267.9h17.6M1365.5 1233.2h17.6M1365.5 1251.8h17.6M1395.2 1222.8h17.6M1395.2 1243.6h17.6M1414.9 1237.2h17.6M1414.9 1256h17.6M1432.5 1194.8h17.6M1432.5 1213.1h17.6M1433.8 1222.9h17.6M1433.8 1255.2h17.6M1452.8 1209.1h17.6M1452.8 1229.5h17.6M1472.5 1224.7h17.6M1472.5 1254.8h17.6M1503.1 1202.7h17.6M1503.1 1218.3h17.6M1533.2 1199h17.6M1533.2 1220.1h17.6M1547.3 1186.3h17.6M1547.3 1207.1h17.6M1550.2 1186.7h17.6M1550.2 1203.3h17.6M1550.2 1193.8h17.6M1550.2 1208.7h17.6M1559.8 1170h17.6M1559.8 1187.9h17.6M1571.7 1209h17.6M1571.7 1231.3h17.6M1587.2 1228.3h17.6M1587.2 1245h17.6M1590.1 1241.4h17.6M1590.1 1255.7h17.6M1602.6 1237.9h17.6M1602.6 1252.1h17.6M1608 1218.8h17.6M1608 1237.9h17.6M1626.4 1211.1h17.6M1626.4 1230.1h17.6M1638.3 1206.7h17.6M1638.3 1224.8h17.6M1647.3 1227.7h17.6M1647.3 1242.6h17.6M1678.8 1200.4h17.6M1678.8 1221.8h17.6M1687.2 1215.2h17.6M1687.2 1231.9h17.6M1690.1 1226h17.6M1690.1 1241.4h17.6M1699.1 1218.8h17.6M1699.1 1235.5h17.6M1706.6 1243.2h17.6M1706.6 1278.9h17.6M1716.9 1233.1h17.6M1716.9 1249.8h17.6M1719.3 1223.6h17.6M1719.3 1241.4h17.6M1724.1 1197.4h17.6M1724.1 1215.2h17.6M1728.8 1184.3h17.6M1728.8 1201h17.6M1736 1180.7h17.6M1736 1199.8h17.6M1744.3 1202.1h17.6M1744.3 1218.8h17.6M1745.5 1183.1h17.6M1745.5 1202.1h17.6M1757.4 1191.4h17.6M1757.4 1208.1h17.6M1758.6 1181.9h17.6M1758.6 1201h17.6M1765 1164.2h17.6M1765 1177.1h17.6M1766.9 1159.3h17.6M1766.9 1178.3h17.6M1769.7 1161.5h17.6M1769.7 1169.8h17.6M1773.2 1173.4h17.6M1773.2 1180.7h17.6M1773.8 1164.8h17.6M1773.8 1176.3h17.6M1774.1 1172.9h17.6M1774.1 1190.5h17.6M1776.3 1159.8h17.6M1776.3 1181.7h17.6M1776.7 1174.4h17.6M1776.7 1183.4h17.6M1777.1 1158.9h17.6M1777.1 1172.7h17.6M1787.6 1176.3h17.6M1787.6 1183.4h17.6M1789.2 1168.9h17.6M1789.2 1179.3h17.6M1789.4 1161.7h17.6M1789.4 1176.5h17.6M1790.5 1163.1h17.6M1790.5 1189.9h17.6M1790.5 1160.9h17.6M1790.5 1178.4h17.6M1794.5 1159.4h17.6M1794.5 1170.8h17.6M1798.6 1135.7h17.6M1798.6 1150.3h17.6M1799.8 1140.5h17.6M1799.8 1150.2h17.6M1802.6 1136.8h17.6M1802.6 1154.3h17.6M1805.7 1150h17.6M1805.7 1158.1h17.6M1806.2 1158.2h17.6M1806.2 1167.4h17.6M1807 1142.2h17.6M1807 1159.8h17.6M1808.7 1145h17.6M1808.7 1160.4h17.6M1809.2 1149.9h17.6M1809.2 1170.2h17.6M1812.3 1156.6h17.6M1812.3 1163.9h17.6M1812.5 1125.8h17.6M1812.5 1143.3h17.6M1812.6 1133.6h17.6M1812.6 1144h17.6M1813.1 1128.6h17.6M1813.1 1143h17.6M1820.1 1115.9h17.6M1820.1 1133.5h17.6M1820.4 1122.1h17.6M1820.4 1133.5h17.6M1823.3 1117.2h17.6M1823.3 1124.5h17.6M1823.9 1097.9h17.6M1823.9 1112.2h17.6M1824.5 1095.1h17.6M1824.5 1112.6h17.6M1826.3 1095h17.6M1826.3 1108.6h17.6M1826.7 1108.2h17.6M1826.7 1125.8h17.6M1828.5 1106.5h17.6M1828.5 1119.7h17.6M1828.9 1118.2h17.6M1828.9 1124.5h17.6M1829.7 1115h17.6M1829.7 1129.1h17.6M1830.6 1125.9h17.6M1830.6 1134.9h17.6M1832.2 1111.5h17.6M1832.2 1140h17.6M1832.4 1094.6h17.6M1832.4 1109.1h17.6M1833.7 1096.5h17.6M1833.7 1110.1h17.6M1834.4 1089.6h17.6M1834.4 1107.1h17.6M1835.6 1088.2h17.6M1835.6 1097.1h17.6M1836.7 1086.4h17.6M1836.7 1103.9h17.6M1836.8 1099.4h17.6M1836.8 1115.4h17.6M1839.5 1086.8h17.6M1839.5 1098.7h17.6M1839.7 1100.1h17.6M1839.7 1113.9h17.6M1839.9 1100.6h17.6M1839.9 1118.1h17.6M1842 1092.7h17.6M1842 1099.1h17.6M1843.6 1086.4h17.6M1843.6 1100h17.6M1843.7 1076.8h17.6M1843.7 1084h17.6M1844.1 1085.2h17.6M1844.1 1095.8h17.6M1844.2 1078.1h17.6M1844.2 1087.1h17.6M1844.3 1084.1h17.6M1844.3 1101.7h17.6M1844.4 1080h17.6M1844.4 1091.2h17.6M1844.4 1070h17.6M1844.4 1091.9h17.6M1844.4 1088.6h17.6M1844.4 1106.1h17.6M1846.1 1067.1h17.6M1846.1 1079.1h17.6M1846.5 1079.1h17.6M1846.5 1088.7h17.6M1846.7 1094.5h17.6M1846.7 1109.9h17.6M1847.5 1089.3h17.6M1847.5 1097.2h17.6M1847.7 1067.2h17.6M1847.7 1083.7h17.6M1848.3 1095.8h17.6M1848.3 1102h17.6M1848.3 1083.3h17.6M1848.3 1098.4h17.6M1848.7 1095.1h17.6M1848.7 1113.7h17.6M1849.9 1073.2h17.6M1849.9 1095.2h17.6M1852.1 1079.8h17.6M1852.1 1101.8h17.6M1852.6 1074.6h17.6M1852.6 1083.9h17.6M1852.7 1060.6h17.6M1852.7 1067.7h17.6M1852.7 1063.8h17.6M1852.7 1070.8h17.6M1853.2 1051.8h17.6M1853.2 1064.2h17.6M1853.2 1060.1h17.6M1853.2 1077.6h17.6M1853.6 1066.1h17.6M1853.6 1072.5h17.6M1854 1082h17.6M1854 1094.8h17.6M1855.4 1053.5h17.6M1855.4 1071.1h17.6M1856.5 1037.1h17.6M1856.5 1054.6h17.6M1856.5 1043.1h17.6M1856.5 1063.9h17.6M1857.1 1049.6h17.6M1857.1 1059.2h17.6M1858.1 1031h17.6M1858.1 1045.7h17.6M1858.3 1047.4h17.6M1858.3 1056.4h17.6M1859.3 1038h17.6M1859.3 1051.2h17.6M1859.6 1044.8h17.6M1859.6 1052.9h17.6M1859.8 1022.8h17.6M1859.8 1040.4h17.6M1860.8 1030.5h17.6M1860.8 1048h17.6M1863.2 1023.3h17.6M1863.2 1030.7h17.6M1863.3 1036.4h17.6M1863.3 1048.8h17.6M1863.4 1023.9h17.6M1863.4 1037.1h17.6M1863.4 1055.5h17.6M1863.4 1067.5h17.6M1864.2 1019.5h17.6M1864.2 1027.4h17.6M1865.3 1015.6h17.6M1865.3 1028.1h17.6M1866.3 1017.7h17.6M1866.3 1034.9h17.6M1866.3 1048h17.6M1866.3 1065.6h17.6M1868.1 1047.8h17.6M1868.1 1060h17.6M1869.8 1014.2h17.6M1869.8 1026.2h17.6M1871 1011.5h17.6M1871 1022.4h17.6M1871.8 1011.8h17.6M1871.8 1029.4h17.6M1875.5 1009.5h17.6M1875.5 1019.9h17.6M1875.8 1004.4h17.6M1875.8 1015.6h17.6M1876.2 996.5h17.6M1876.2 1014h17.6M1877.3 981.7h17.6M1877.3 1004.7h17.6M1877.7 999.1h17.6M1877.7 1012.5h17.6M1878.4 1004.2h17.6M1878.4 1021.7h17.6M1878.8 1000.3h17.6M1878.8 1016.2h17.6M1880.1 986.3h17.6M1880.1 999.8h17.6M1880.9 991.9h17.6M1880.9 1000.4h17.6M1882.1 983.3h17.6M1882.1 997.4h17.6M1885 976.8h17.6M1885 996.5h17.6M1885.3 967.5h17.6M1885.3 975.7h17.6M1885.4 961.9h17.6M1885.4 975.2h17.6M1885.5 988.8h17.6M1885.5 996h17.6M1885.5 971.1h17.6M1885.5 985.5h17.6M1886.1 985.5h17.6M1886.1 1003.1h17.6M1886.6 988.8h17.6M1886.6 998.4h17.6M1887.2 970.2h17.6M1887.2 987.7h17.6M1887.4 983.2h17.6M1887.4 996.6h17.6M1888 969.7h17.6M1888 978.5h17.6M1888.3 951h17.6M1888.3 991.6h17.6"/>
<g><rect x="1037.1" y="1248.8" width="8.7" height="8.7" class="sg"/><rect x="1050.1" y="1231.8" width="8.7" height="8.7" class="sg"/><rect x="1059" y="1229.6" width="8.7" height="8.7" class="sg"/><rect x="1063.2" y="1234.8" width="8.7" height="8.7" class="sg"/><rect x="1067.6" y="1220.7" width="8.7" height="8.7" class="sg"/><rect x="1091.7" y="1232.6" width="8.7" height="8.7" class="sg"/><rect x="1096.5" y="1240" width="8.7" height="8.7" class="sg"/><rect x="1102.9" y="1242.6" width="8.7" height="8.7" class="sg"/><rect x="1109.6" y="1242.6" width="8.7" height="8.7" class="sg"/><rect x="1122.2" y="1229.5" width="8.7" height="8.7" class="sg"/><rect x="1135.3" y="1222.2" width="8.7" height="8.7" class="sg"/><rect x="1149" y="1225.4" width="8.7" height="8.7" class="sg"/><rect x="1161.2" y="1224.3" width="8.7" height="8.7" class="sg"/><rect x="1186.7" y="1213.5" width="8.7" height="8.7" class="sg"/><rect x="1196.2" y="1213.2" width="8.7" height="8.7" class="sg"/><rect x="1219.4" y="1213.8" width="8.7" height="8.7" class="sg"/><rect x="1221.6" y="1208.3" width="8.7" height="8.7" class="sg"/><rect x="1227.1" y="1206.1" width="8.7" height="8.7" class="sg"/><rect x="1228.3" y="1215.8" width="8.7" height="8.7" class="sg"/><rect x="1234.6" y="1215.8" width="8.7" height="8.7" class="sg"/><rect x="1239.8" y="1231.1" width="8.7" height="8.7" class="sg"/><rect x="1249.9" y="1245.2" width="8.7" height="8.7" class="sg"/><rect x="1262.9" y="1245.1" width="8.7" height="8.7" class="sg"/><rect x="1271" y="1243.3" width="8.7" height="8.7" class="sg"/><rect x="1274.8" y="1235.1" width="8.7" height="8.7" class="sg"/><rect x="1284.7" y="1239.3" width="8.7" height="8.7" class="sg"/><rect x="1290.3" y="1228.5" width="8.7" height="8.7" class="sg"/><rect x="1294.8" y="1230.3" width="8.7" height="8.7" class="sg"/><rect x="1300.3" y="1231.1" width="8.7" height="8.7" class="sg"/><rect x="1311.2" y="1219.9" width="8.7" height="8.7" class="sg"/><rect x="1316.2" y="1215.4" width="8.7" height="8.7" class="sg"/><rect x="1325.1" y="1213.7" width="8.7" height="8.7" class="sg"/><rect x="1336" y="1221.1" width="8.7" height="8.7" class="sg"/><rect x="1343.4" y="1220.7" width="8.7" height="8.7" class="sg"/><rect x="1351.9" y="1224.1" width="8.7" height="8.7" class="sg"/><rect x="1360.6" y="1230.6" width="8.7" height="8.7" class="sg"/><rect x="1368" y="1235.5" width="8.7" height="8.7" class="sg"/><rect x="1381.1" y="1232.9" width="8.7" height="8.7" class="sg"/><rect x="1390.3" y="1228.8" width="8.7" height="8.7" class="sg"/><rect x="1397" y="1228.5" width="8.7" height="8.7" class="sg"/><rect x="1402.2" y="1229.1" width="8.7" height="8.7" class="sg"/><rect x="1417.4" y="1235.1" width="8.7" height="8.7" class="sg"/><rect x="1423.8" y="1240.7" width="8.7" height="8.7" class="sg"/><rect x="1431.7" y="1243.7" width="8.7" height="8.7" class="sg"/><rect x="1438.4" y="1237" width="8.7" height="8.7" class="sg"/><rect x="1449.1" y="1236" width="8.7" height="8.7" class="sg"/><rect x="1457.3" y="1231.1" width="8.7" height="8.7" class="sg"/><rect x="1466.5" y="1231.4" width="8.7" height="8.7" class="sg"/><rect x="1475.9" y="1231.5" width="8.7" height="8.7" class="sg"/><rect x="1481.4" y="1235.5" width="8.7" height="8.7" class="sg"/><rect x="1491.1" y="1228.5" width="8.7" height="8.7" class="sg"/><rect x="1500.4" y="1223.9" width="8.7" height="8.7" class="sg"/><rect x="1508.6" y="1211.7" width="8.7" height="8.7" class="sg"/><rect x="1521.6" y="1193.4" width="8.7" height="8.7" class="sg"/><rect x="1528.7" y="1192.1" width="8.7" height="8.7" class="sg"/><rect x="1537.3" y="1192.4" width="8.7" height="8.7" class="sg"/><rect x="1544.8" y="1194.3" width="8.7" height="8.7" class="sg"/><rect x="1553.3" y="1187.2" width="8.7" height="8.7" class="sg"/><rect x="1554.1" y="1187.3" width="8.7" height="8.7" class="sg"/><rect x="1561.6" y="1185.3" width="8.7" height="8.7" class="sg"/><rect x="1570.8" y="1187.7" width="8.7" height="8.7" class="sg"/><rect x="1580.7" y="1207.1" width="8.7" height="8.7" class="sg"/><rect x="1586.2" y="1216.6" width="8.7" height="8.7" class="sg"/><rect x="1592.8" y="1226.6" width="8.7" height="8.7" class="sg"/><rect x="1601.1" y="1232" width="8.7" height="8.7" class="sg"/><rect x="1608.3" y="1229.9" width="8.7" height="8.7" class="sg"/><rect x="1617.8" y="1224.6" width="8.7" height="8.7" class="sg"/><rect x="1625.5" y="1221" width="8.7" height="8.7" class="sg"/><rect x="1635.7" y="1218" width="8.7" height="8.7" class="sg"/><rect x="1642.2" y="1219.2" width="8.7" height="8.7" class="sg"/><rect x="1648.7" y="1219.8" width="8.7" height="8.7" class="sg"/><rect x="1672.6" y="1215.9" width="8.7" height="8.7" class="sg"/><rect x="1680.3" y="1213.3" width="8.7" height="8.7" class="sg"/><rect x="1687.4" y="1207.1" width="8.7" height="8.7" class="sg"/><rect x="1695.8" y="1205.9" width="8.7" height="8.7" class="sg"/><rect x="1702.9" y="1209.3" width="8.7" height="8.7" class="sg"/><rect x="1709.7" y="1224" width="8.7" height="8.7" class="sg"/><rect x="1719" y="1223.4" width="8.7" height="8.7" class="sg"/><rect x="1728.5" y="1215.1" width="8.7" height="8.7" class="sg"/><rect x="1736.6" y="1208.5" width="8.7" height="8.7" class="sg"/><rect x="1744.6" y="1195.4" width="8.7" height="8.7" class="sg"/><rect x="1752.3" y="1199" width="8.7" height="8.7" class="sg"/><rect x="1760.1" y="1190.7" width="8.7" height="8.7" class="sg"/><rect x="1771.1" y="1180.2" width="8.7" height="8.7" class="sg"/><rect x="1778.5" y="1167.7" width="8.7" height="8.7" class="sg"/><rect x="1786.4" y="1164.8" width="8.7" height="8.7" class="sg"/><rect x="1787.6" y="1157.3" width="8.7" height="8.7" class="sg"/><rect x="1796.3" y="1162.6" width="8.7" height="8.7" class="sg"/><rect x="1797.4" y="1155.2" width="8.7" height="8.7" class="sg"/><rect x="1805.4" y="1153.2" width="8.7" height="8.7" class="sg"/><rect x="1806.3" y="1145.6" width="8.7" height="8.7" class="sg"/><rect x="1812.5" y="1151.6" width="8.7" height="8.7" class="sg"/></g>
<g><path d="M425.7 1237.6l5 8.7h-10z" class="tn"/><path d="M436.1 1238.4l5 8.7h-10z" class="tn"/><path d="M421.5 1231.7l5 8.7h-10z" class="tn"/><path d="M427.4 1236.9l5 8.7h-10z" class="tn"/><path d="M437.9 1239.1l5 8.7h-10z" class="tn"/><path d="M443.1 1244.3l5 8.7h-10z" class="tn"/><path d="M450.5 1230.9l5 8.7h-10z" class="tn"/><path d="M455.7 1228.7l5 8.7h-10z" class="tn"/><path d="M459.4 1236.1l5 8.7h-10z" class="tn"/><path d="M466.1 1230.9l5 8.7h-10z" class="tn"/><path d="M470.6 1222l5 8.7h-10z" class="tn"/><path d="M475.8 1219l5 8.7h-10z" class="tn"/><path d="M480.7 1215.3l5 8.7h-10z" class="tn"/><path d="M485.5 1220.5l5 8.7h-10z" class="tn"/><path d="M489.9 1230.2l5 8.7h-10z" class="tn"/><path d="M495.1 1230.9l5 8.7h-10z" class="tn"/><path d="M498.9 1233.2l5 8.7h-10z" class="tn"/><path d="M503.3 1234.6l5 8.7h-10z" class="tn"/><path d="M562.9 1248l5 8.7h-10z" class="tn"/><path d="M566.6 1239.1l5 8.7h-10z" class="tn"/><path d="M576.2 1236.1l5 8.7h-10z" class="tn"/><path d="M580.7 1233.9l5 8.7h-10z" class="tn"/><path d="M585.2 1227.9l5 8.7h-10z" class="tn"/><path d="M589.6 1227.2l5 8.7h-10z" class="tn"/><path d="M595.3 1227.2l5 8.7h-10z" class="tn"/><path d="M599 1214.6l5 8.7h-10z" class="tn"/><path d="M606 1207.1l5 8.7h-10z" class="tn"/><path d="M611.2 1206.8l5 8.7h-10z" class="tn"/><path d="M614.2 1217.2l5 8.7h-10z" class="tn"/><path d="M620.9 1217.2l5 8.7h-10z" class="tn"/><path d="M628.3 1210.8l5 8.7h-10z" class="tn"/><path d="M635.8 1224.7l5 8.7h-10z" class="tn"/><path d="M641.7 1226.5l5 8.7h-10z" class="tn"/><path d="M646.2 1226.5l5 8.7h-10z" class="tn"/><path d="M649.9 1227.2l5 8.7h-10z" class="tn"/><path d="M655.9 1227.9l5 8.7h-10z" class="tn"/><path d="M661.8 1230.9l5 8.7h-10z" class="tn"/><path d="M665.5 1232.4l5 8.7h-10z" class="tn"/><path d="M668.5 1233.2l5 8.7h-10z" class="tn"/><path d="M678.9 1224.2l5 8.7h-10z" class="tn"/><path d="M683.4 1222.7l5 8.7h-10z" class="tn"/><path d="M689.8 1216l5 8.7h-10z" class="tn"/><path d="M689.8 1223.5l5 8.7h-10z" class="tn"/><path d="M695.3 1222l5 8.7h-10z" class="tn"/><path d="M698.3 1222.7l5 8.7h-10z" class="tn"/><path d="M705.7 1227.2l5 8.7h-10z" class="tn"/><path d="M711.7 1233.9l5 8.7h-10z" class="tn"/><path d="M716.1 1228.7l5 8.7h-10z" class="tn"/><path d="M719.1 1226.5l5 8.7h-10z" class="tn"/><path d="M723.4 1218.6l5 8.7h-10z" class="tn"/><path d="M730.5 1210.8l5 8.7h-10z" class="tn"/><path d="M735.7 1213.1l5 8.7h-10z" class="tn"/><path d="M742.4 1220.5l5 8.7h-10z" class="tn"/><path d="M747.6 1216l5 8.7h-10z" class="tn"/><path d="M750.9 1192.7l5 8.7h-10z" class="tn"/><path d="M776.6 1204.6l5 8.7h-10z" class="tn"/><path d="M785.1 1221.2l5 8.7h-10z" class="tn"/><path d="M790 1232.4l5 8.7h-10z" class="tn"/><path d="M794.8 1226.5l5 8.7h-10z" class="tn"/><path d="M800 1231.2l5 8.7h-10z" class="tn"/><path d="M803.4 1239.1l5 8.7h-10z" class="tn"/><path d="M807.9 1240.6l5 8.7h-10z" class="tn"/><path d="M814.6 1241.3l5 8.7h-10z" class="tn"/><path d="M819 1240.1l5 8.7h-10z" class="tn"/><path d="M823.5 1239.1l5 8.7h-10z" class="tn"/><path d="M830.2 1242.8l5 8.7h-10z" class="tn"/><path d="M833.9 1227.2l5 8.7h-10z" class="tn"/><path d="M839.1 1219l5 8.7h-10z" class="tn"/><path d="M843.6 1219.3l5 8.7h-10z" class="tn"/><path d="M853.3 1219.5l5 8.7h-10z" class="tn"/><path d="M858 1208.6l5 8.7h-10z" class="tn"/><path d="M862.2 1217.5l5 8.7h-10z" class="tn"/><path d="M869.6 1225l5 8.7h-10z" class="tn"/><path d="M876.3 1225.7l5 8.7h-10z" class="tn"/><path d="M883 1210.1l5 8.7h-10z" class="tn"/><path d="M886.8 1207.4l5 8.7h-10z" class="tn"/><path d="M892 1205.6l5 8.7h-10z" class="tn"/><path d="M896.4 1204.1l5 8.7h-10z" class="tn"/><path d="M901.3 1202.6l5 8.7h-10z" class="tn"/><path d="M909.1 1207.9l5 8.7h-10z" class="tn"/><path d="M915.8 1214.6l5 8.7h-10z" class="tn"/><path d="M920.2 1214.9l5 8.7h-10z" class="tn"/><path d="M924 1190l5 8.7h-10z" class="tn"/><path d="M931.4 1200.9l5 8.7h-10z" class="tn"/><path d="M937.6 1183.6l5 8.7h-10z" class="tn"/><path d="M942.1 1199.7l5 8.7h-10z" class="tn"/><path d="M950.7 1208.6l5 8.7h-10z" class="tn"/><path d="M964.9 1204.6l5 8.7h-10z" class="tn"/><path d="M972.3 1196.7l5 8.7h-10z" class="tn"/><path d="M976 1194.9l5 8.7h-10z" class="tn"/><path d="M979.8 1193.4l5 8.7h-10z" class="tn"/><path d="M983.5 1192.5l5 8.7h-10z" class="tn"/><path d="M993.9 1186l5 8.7h-10z" class="tn"/><path d="M999.1 1189.3l5 8.7h-10z" class="tn"/><path d="M1004.3 1180.5l5 8.7h-10z" class="tn"/><path d="M1008.3 1186.5l5 8.7h-10z" class="tn"/><path d="M1013.5 1181.7l5 8.7h-10z" class="tn"/><path d="M1018.7 1184.2l5 8.7h-10z" class="tn"/><path d="M1023.2 1174.6l5 8.7h-10z" class="tn"/><path d="M1027.6 1168.6l5 8.7h-10z" class="tn"/><path d="M1030.6 1169.3l5 8.7h-10z" class="tn"/><path d="M1150.4 1153.7l5 8.7h-10z" class="tn"/><path d="M1156.3 1150.7l5 8.7h-10z" class="tn"/><path d="M1160.8 1144l5 8.7h-10z" class="tn"/><path d="M1166 1143.3l5 8.7h-10z" class="tn"/><path d="M1171.2 1136.6l5 8.7h-10z" class="tn"/><path d="M1175.2 1135.9l5 8.7h-10z" class="tn"/><path d="M1180.9 1138.8l5 8.7h-10z" class="tn"/><path d="M1186.4 1135.4l5 8.7h-10z" class="tn"/><path d="M1190.6 1146.3l5 8.7h-10z" class="tn"/><path d="M1195.8 1145.1l5 8.7h-10z" class="tn"/><path d="M1201 1143.6l5 8.7h-10z" class="tn"/><path d="M1206.6 1144l5 8.7h-10z" class="tn"/><path d="M1215.1 1147l5 8.7h-10z" class="tn"/><path d="M1226.3 1150.7l5 8.7h-10z" class="tn"/><path d="M1255.3 1171.6l5 8.7h-10z" class="tn"/><path d="M1260.2 1167.4l5 8.7h-10z" class="tn"/><path d="M1265 1169.3l5 8.7h-10z" class="tn"/><path d="M1270.2 1169.3l5 8.7h-10z" class="tn"/><path d="M1275.4 1167.1l5 8.7h-10z" class="tn"/><path d="M1279.1 1167.1l5 8.7h-10z" class="tn"/><path d="M1285.3 1166l5 8.7h-10z" class="tn"/><path d="M1289.5 1157.1l5 8.7h-10z" class="tn"/><path d="M1297.9 1167.5l5 8.7h-10z" class="tn"/><path d="M1303.2 1163.1l5 8.7h-10z" class="tn"/><path d="M1308.4 1161.6l5 8.7h-10z" class="tn"/><path d="M1312.8 1155.6l5 8.7h-10z" class="tn"/><path d="M1317.3 1154.1l5 8.7h-10z" class="tn"/><path d="M1323.2 1146.7l5 8.7h-10z" class="tn"/><path d="M1328.2 1146.4l5 8.7h-10z" class="tn"/><path d="M1338.1 1164.6l5 8.7h-10z" class="tn"/><path d="M1347.1 1169l5 8.7h-10z" class="tn"/><path d="M1355.2 1172.7l5 8.7h-10z" class="tn"/><path d="M1360.4 1164.6l5 8.7h-10z" class="tn"/><path d="M1364.2 1166l5 8.7h-10z" class="tn"/><path d="M1371.6 1173.5l5 8.7h-10z" class="tn"/><path d="M1375.3 1163.1l5 8.7h-10z" class="tn"/><path d="M1382.8 1158.6l5 8.7h-10z" class="tn"/><path d="M1388 1157.1l5 8.7h-10z" class="tn"/><path d="M1392.4 1156.8l5 8.7h-10z" class="tn"/><path d="M1397.6 1159.3l5 8.7h-10z" class="tn"/><path d="M1402.1 1162.3l5 8.7h-10z" class="tn"/><path d="M1406.6 1162.8l5 8.7h-10z" class="tn"/><path d="M1411 1169l5 8.7h-10z" class="tn"/><path d="M1430.4 1172.7l5 8.7h-10z" class="tn"/><path d="M1436.3 1172l5 8.7h-10z" class="tn"/><path d="M1441.5 1165.3l5 8.7h-10z" class="tn"/><path d="M1446.8 1169.8l5 8.7h-10z" class="tn"/><path d="M1451.2 1170.5l5 8.7h-10z" class="tn"/><path d="M1457.2 1166.8l5 8.7h-10z" class="tn"/><path d="M1461.6 1169l5 8.7h-10z" class="tn"/><path d="M1466.8 1167.5l5 8.7h-10z" class="tn"/><path d="M1471.3 1166.8l5 8.7h-10z" class="tn"/><path d="M1478 1167.5l5 8.7h-10z" class="tn"/><path d="M1486.9 1166l5 8.7h-10z" class="tn"/><path d="M1491.4 1156.8l5 8.7h-10z" class="tn"/><path d="M1496.6 1151.2l5 8.7h-10z" class="tn"/><path d="M1501.8 1150.4l5 8.7h-10z" class="tn"/><path d="M1505.1 1132.6l5 8.7h-10z" class="tn"/><path d="M1510.7 1139.3l5 8.7h-10z" class="tn"/><path d="M1515.2 1131.8l5 8.7h-10z" class="tn"/><path d="M1521.9 1122.1l5 8.7h-10z" class="tn"/><path d="M1525.6 1120.7l5 8.7h-10z" class="tn"/><path d="M1530.1 1118.4l5 8.7h-10z" class="tn"/><path d="M1535.3 1116.9l5 8.7h-10z" class="tn"/><path d="M1541.2 1108.7l5 8.7h-10z" class="tn"/><path d="M1545.4 1105.3l5 8.7h-10z" class="tn"/><path d="M1550.2 1111l5 8.7h-10z" class="tn"/><path d="M1555.4 1111l5 8.7h-10z" class="tn"/><path d="M1569.8 1144.7l5 8.7h-10z" class="tn"/><path d="M1573.9 1153.6l5 8.7h-10z" class="tn"/><path d="M1579.3 1160.1l5 8.7h-10z" class="tn"/><path d="M1590 1162.5l5 8.7h-10z" class="tn"/><path d="M1594.2 1161.3l5 8.7h-10z" class="tn"/><path d="M1598.9 1163.1l5 8.7h-10z" class="tn"/><path d="M1604.3 1163.7l5 8.7h-10z" class="tn"/><path d="M1608.5 1154.8l5 8.7h-10z" class="tn"/><path d="M1629.9 1150l5 8.7h-10z" class="tn"/><path d="M1634.6 1153.6l5 8.7h-10z" class="tn"/><path d="M1639.4 1154.2l5 8.7h-10z" class="tn"/><path d="M1649.5 1150l5 8.7h-10z" class="tn"/><path d="M1654.3 1162.5l5 8.7h-10z" class="tn"/><path d="M1660.2 1161.3l5 8.7h-10z" class="tn"/><path d="M1663.8 1151.8l5 8.7h-10z" class="tn"/><path d="M1668 1147.1l5 8.7h-10z" class="tn"/><path d="M1674.5 1145.9l5 8.7h-10z" class="tn"/><path d="M1707.9 1164.3l5 8.7h-10z" class="tn"/><path d="M1713.8 1162.5l5 8.7h-10z" class="tn"/><path d="M1718.6 1152.4l5 8.7h-10z" class="tn"/><path d="M1723.3 1150.6l5 8.7h-10z" class="tn"/><path d="M1728.1 1146.5l5 8.7h-10z" class="tn"/><path d="M1733.5 1143.5l5 8.7h-10z" class="tn"/><path d="M1740 1140.5l5 8.7h-10z" class="tn"/><path d="M1751.9 1132.2l5 8.7h-10z" class="tn"/><path d="M1765 1111.3l5 8.7h-10z" class="tn"/><path d="M1771 1107.2l5 8.7h-10z" class="tn"/><path d="M1776.9 1099.4l5 8.7h-10z" class="tn"/><path d="M1881.7 932.8l5 8.7h-10z" class="tn"/><path d="M1877.1 943.5l5 8.7h-10z" class="tn"/><path d="M1842.8 1018.4l5 8.7h-10z" class="tn"/><path d="M1836.8 1027.1l5 8.7h-10z" class="tn"/><path d="M1831.3 1033.2l5 8.7h-10z" class="tn"/><path d="M1828 1040.8l5 8.7h-10z" class="tn"/><path d="M1821.2 1053.4l5 8.7h-10z" class="tn"/><path d="M1811.5 1075.9l5 8.7h-10z" class="tn"/><path d="M1803.9 1082.5l5 8.7h-10z" class="tn"/></g>
<g><rect x="147.1" y="1236.4" width="8.7" height="8.7" class="sgr"/><rect x="158" y="1226.8" width="8.7" height="8.7" class="sgr"/><rect x="166.2" y="1222.7" width="8.7" height="8.7" class="sgr"/><rect x="171.8" y="1227" width="8.7" height="8.7" class="sgr"/><rect x="175.4" y="1238.2" width="8.7" height="8.7" class="sgr"/><rect x="187.4" y="1220.4" width="8.7" height="8.7" class="sgr"/><rect x="190.7" y="1229" width="8.7" height="8.7" class="sgr"/><rect x="198.9" y="1234.9" width="8.7" height="8.7" class="sgr"/><rect x="207.2" y="1218.6" width="8.7" height="8.7" class="sgr"/><rect x="216" y="1227.9" width="8.7" height="8.7" class="sgr"/><rect x="224.9" y="1229.3" width="8.7" height="8.7" class="sgr"/><rect x="233.4" y="1238.7" width="8.7" height="8.7" class="sgr"/><rect x="248" y="1236" width="8.7" height="8.7" class="sgr"/><rect x="260.4" y="1221.5" width="8.7" height="8.7" class="sgr"/><rect x="274.5" y="1218.3" width="8.7" height="8.7" class="sgr"/><rect x="290.9" y="1225.6" width="8.7" height="8.7" class="sgr"/><rect x="303.1" y="1216.6" width="8.7" height="8.7" class="sgr"/><rect x="319.9" y="1219" width="8.7" height="8.7" class="sgr"/><rect x="327.9" y="1234.9" width="8.7" height="8.7" class="sgr"/><rect x="335.8" y="1236.4" width="8.7" height="8.7" class="sgr"/><rect x="354.4" y="1236.4" width="8.7" height="8.7" class="sgr"/><rect x="374.8" y="1228.5" width="8.7" height="8.7" class="sgr"/><rect x="387.6" y="1232" width="8.7" height="8.7" class="sgr"/><rect x="403.2" y="1229" width="8.7" height="8.7" class="sgr"/><rect x="412.9" y="1229.7" width="8.7" height="8.7" class="sgr"/><rect x="427.3" y="1242.4" width="8.7" height="8.7" class="sgr"/><rect x="434.8" y="1250.6" width="8.7" height="8.7" class="sgr"/><rect x="442.1" y="1262" width="8.7" height="8.7" class="sgr"/><rect x="455.4" y="1252.8" width="8.7" height="8.7" class="sgr"/><rect x="470.7" y="1239.7" width="8.7" height="8.7" class="sgr"/><rect x="484.4" y="1241.6" width="8.7" height="8.7" class="sgr"/><rect x="504.6" y="1247.1" width="8.7" height="8.7" class="sgr"/><rect x="513.6" y="1234.9" width="8.7" height="8.7" class="sgr"/><rect x="523.1" y="1228.7" width="8.7" height="8.7" class="sgr"/><rect x="534" y="1218.1" width="8.7" height="8.7" class="sgr"/><rect x="542.1" y="1236.1" width="8.7" height="8.7" class="sgr"/><rect x="544.4" y="1240.1" width="8.7" height="8.7" class="sgr"/><rect x="555.5" y="1237.2" width="8.7" height="8.7" class="sgr"/><rect x="563.7" y="1219.6" width="8.7" height="8.7" class="sgr"/><rect x="567.7" y="1212.2" width="8.7" height="8.7" class="sgr"/><rect x="586.5" y="1202.9" width="8.7" height="8.7" class="sgr"/><rect x="590.5" y="1200.3" width="8.7" height="8.7" class="sgr"/><rect x="615.1" y="1208.9" width="8.7" height="8.7" class="sgr"/><rect x="628.4" y="1214.1" width="8.7" height="8.7" class="sgr"/><rect x="641.1" y="1217.8" width="8.7" height="8.7" class="sgr"/><rect x="655.2" y="1240.9" width="8.7" height="8.7" class="sgr"/><rect x="661.9" y="1237.9" width="8.7" height="8.7" class="sgr"/><rect x="666.4" y="1239.1" width="8.7" height="8.7" class="sgr"/><rect x="672.3" y="1234.6" width="8.7" height="8.7" class="sgr"/><rect x="685" y="1239" width="8.7" height="8.7" class="sgr"/><rect x="702.6" y="1234.9" width="8.7" height="8.7" class="sgr"/><rect x="719.8" y="1228.7" width="8.7" height="8.7" class="sgr"/><rect x="735.5" y="1213.8" width="8.7" height="8.7" class="sgr"/><rect x="810.2" y="1252" width="8.7" height="8.7" class="sgr"/><rect x="815.9" y="1250.3" width="8.7" height="8.7" class="sgr"/><rect x="834.8" y="1227.9" width="8.7" height="8.7" class="sgr"/><rect x="844.5" y="1213.1" width="8.7" height="8.7" class="sgr"/><rect x="866.5" y="1214.1" width="8.7" height="8.7" class="sgr"/><rect x="882.1" y="1220.5" width="8.7" height="8.7" class="sgr"/><rect x="900.6" y="1210.7" width="8.7" height="8.7" class="sgr"/><rect x="922.6" y="1214.5" width="8.7" height="8.7" class="sgr"/><rect x="935.5" y="1212.6" width="8.7" height="8.7" class="sgr"/><rect x="946.4" y="1204.4" width="8.7" height="8.7" class="sgr"/><rect x="964.3" y="1217.4" width="8.7" height="8.7" class="sgr"/><rect x="977.6" y="1206.2" width="8.7" height="8.7" class="sgr"/><rect x="977.9" y="1213.4" width="8.7" height="8.7" class="sgr"/><rect x="991.8" y="1200.3" width="8.7" height="8.7" class="sgr"/><rect x="1004.4" y="1194.2" width="8.7" height="8.7" class="sgr"/><rect x="1011.8" y="1189.7" width="8.7" height="8.7" class="sgr"/><rect x="1023.7" y="1182.3" width="8.7" height="8.7" class="sgr"/><rect x="1039.9" y="1166.4" width="8.7" height="8.7" class="sgr"/><rect x="1041.4" y="1175.3" width="8.7" height="8.7" class="sgr"/><rect x="1048.1" y="1171.1" width="8.7" height="8.7" class="sgr"/><rect x="1058.2" y="1168.2" width="8.7" height="8.7" class="sgr"/><rect x="1064.5" y="1163.7" width="8.7" height="8.7" class="sgr"/><rect x="1072.4" y="1168.9" width="8.7" height="8.7" class="sgr"/><rect x="1079.8" y="1169.9" width="8.7" height="8.7" class="sgr"/><rect x="1086.5" y="1190.9" width="8.7" height="8.7" class="sgr"/><rect x="1089.8" y="1187.5" width="8.7" height="8.7" class="sgr"/><rect x="1096.6" y="1176.6" width="8.7" height="8.7" class="sgr"/><rect x="1104.4" y="1168.4" width="8.7" height="8.7" class="sgr"/><rect x="1118.1" y="1165.6" width="8.7" height="8.7" class="sgr"/><rect x="1132.3" y="1163.2" width="8.7" height="8.7" class="sgr"/><rect x="1141.6" y="1162.5" width="8.7" height="8.7" class="sgr"/><rect x="1164.6" y="1150.6" width="8.7" height="8.7" class="sgr"/><rect x="1173.6" y="1152.5" width="8.7" height="8.7" class="sgr"/><rect x="1186.7" y="1153.6" width="8.7" height="8.7" class="sgr"/><rect x="1203.3" y="1151.8" width="8.7" height="8.7" class="sgr"/><rect x="1210" y="1154.5" width="8.7" height="8.7" class="sgr"/><rect x="1217.2" y="1159.7" width="8.7" height="8.7" class="sgr"/><rect x="1222.7" y="1161.9" width="8.7" height="8.7" class="sgr"/><rect x="1231.3" y="1172.6" width="8.7" height="8.7" class="sgr"/><rect x="1242.8" y="1182.7" width="8.7" height="8.7" class="sgr"/><rect x="1256.5" y="1182.3" width="8.7" height="8.7" class="sgr"/><rect x="1273" y="1177.4" width="8.7" height="8.7" class="sgr"/><rect x="1284.7" y="1169.6" width="8.7" height="8.7" class="sgr"/><rect x="1300" y="1172.3" width="8.7" height="8.7" class="sgr"/><rect x="1308" y="1168.9" width="8.7" height="8.7" class="sgr"/><rect x="1315.9" y="1154.4" width="8.7" height="8.7" class="sgr"/><rect x="1324.1" y="1156.7" width="8.7" height="8.7" class="sgr"/><rect x="1332" y="1155.5" width="8.7" height="8.7" class="sgr"/><rect x="1338.2" y="1162.3" width="8.7" height="8.7" class="sgr"/><rect x="1346" y="1164.1" width="8.7" height="8.7" class="sgr"/><rect x="1350.9" y="1179.7" width="8.7" height="8.7" class="sgr"/><rect x="1359.5" y="1179.7" width="8.7" height="8.7" class="sgr"/><rect x="1367.3" y="1167.5" width="8.7" height="8.7" class="sgr"/><rect x="1383.6" y="1164.8" width="8.7" height="8.7" class="sgr"/><rect x="1398.1" y="1164.8" width="8.7" height="8.7" class="sgr"/><rect x="1412.9" y="1174.1" width="8.7" height="8.7" class="sgr"/><rect x="1418.2" y="1179.4" width="8.7" height="8.7" class="sgr"/><rect x="1428.3" y="1184.9" width="8.7" height="8.7" class="sgr"/><rect x="1433.5" y="1185.7" width="8.7" height="8.7" class="sgr"/><rect x="1441.4" y="1176.5" width="8.7" height="8.7" class="sgr"/><rect x="1448.4" y="1173.5" width="8.7" height="8.7" class="sgr"/><rect x="1456.5" y="1173" width="8.7" height="8.7" class="sgr"/><rect x="1469.9" y="1180.8" width="8.7" height="8.7" class="sgr"/><rect x="1478.9" y="1180.5" width="8.7" height="8.7" class="sgr"/><rect x="1482.9" y="1176.8" width="8.7" height="8.7" class="sgr"/><rect x="1490.5" y="1163.8" width="8.7" height="8.7" class="sgr"/><rect x="1506.8" y="1148" width="8.7" height="8.7" class="sgr"/><rect x="1520.2" y="1139.3" width="8.7" height="8.7" class="sgr"/><rect x="1536.2" y="1124.4" width="8.7" height="8.7" class="sgr"/><rect x="1544.3" y="1123.6" width="8.7" height="8.7" class="sgr"/><rect x="1551.8" y="1117.2" width="8.7" height="8.7" class="sgr"/><rect x="1563" y="1117.4" width="8.7" height="8.7" class="sgr"/><rect x="1566.6" y="1121.4" width="8.7" height="8.7" class="sgr"/><rect x="1570.2" y="1138.3" width="8.7" height="8.7" class="sgr"/><rect x="1578.3" y="1160.3" width="8.7" height="8.7" class="sgr"/><rect x="1583" y="1165.4" width="8.7" height="8.7" class="sgr"/><rect x="1590.4" y="1177.2" width="8.7" height="8.7" class="sgr"/><rect x="1602.9" y="1171" width="8.7" height="8.7" class="sgr"/><rect x="1616.4" y="1166.2" width="8.7" height="8.7" class="sgr"/><rect x="1633.5" y="1156.4" width="8.7" height="8.7" class="sgr"/><rect x="1645.8" y="1158.3" width="8.7" height="8.7" class="sgr"/><rect x="1662.4" y="1161.8" width="8.7" height="8.7" class="sgr"/><rect x="1673.5" y="1150.5" width="8.7" height="8.7" class="sgr"/><rect x="1686.2" y="1147.8" width="8.7" height="8.7" class="sgr"/><rect x="1702.9" y="1158.7" width="8.7" height="8.7" class="sgr"/><rect x="1715.7" y="1163" width="8.7" height="8.7" class="sgr"/><rect x="1727.6" y="1149.6" width="8.7" height="8.7" class="sgr"/><rect x="1732.1" y="1146.6" width="8.7" height="8.7" class="sgr"/><rect x="1737.1" y="1131.7" width="8.7" height="8.7" class="sgr"/><rect x="1743.4" y="1128.7" width="8.7" height="8.7" class="sgr"/><rect x="1745.2" y="1121.6" width="8.7" height="8.7" class="sgr"/><rect x="1748.2" y="1115.7" width="8.7" height="8.7" class="sgr"/><rect x="1755.9" y="1127.6" width="8.7" height="8.7" class="sgr"/><rect x="1758.3" y="1120.4" width="8.7" height="8.7" class="sgr"/><rect x="1767.2" y="1116.8" width="8.7" height="8.7" class="sgr"/><rect x="1770.8" y="1110.9" width="8.7" height="8.7" class="sgr"/><rect x="1774.9" y="1093" width="8.7" height="8.7" class="sgr"/><rect x="1820.7" y="1040.6" width="8.7" height="8.7" class="sgr"/><rect x="1815.4" y="1064.5" width="8.7" height="8.7" class="sgr"/><rect x="1812.7" y="1068.9" width="8.7" height="8.7" class="sgr"/><rect x="1783.6" y="1084.5" width="8.7" height="8.7" class="sgr"/><rect x="1788.5" y="1090.8" width="8.7" height="8.7" class="sgr"/><rect x="1797.1" y="1088.6" width="8.7" height="8.7" class="sgr"/><rect x="1806.1" y="1087" width="8.7" height="8.7" class="sgr"/><rect x="1810.5" y="1085.3" width="8.7" height="8.7" class="sgr"/><rect x="1777.6" y="1093" width="8.7" height="8.7" class="sgr"/><rect x="1779.6" y="1108.8" width="8.7" height="8.7" class="sgr"/><rect x="1794.2" y="1097.5" width="8.7" height="8.7" class="sgr"/></g>
<path class="eb" d="M199.5 1597.7V1625.8M220.1 1577.4V1618.8M284.3 1551.3V1593.5M308.9 1564V1605.4M359.5 1522.1V1563.5M423.5 1609.4V1636.9M445.6 1621.3V1649.6M474.8 1589.3V1617.3M525.2 1592.8V1620.8M586.9 1610.4V1651.8M592.6 1550.6V1648.1M617.2 1637.7V1664.9M648 1570.4V1611.5M669.9 1624.9V1652.7M701.3 1594.2V1650.2M732.8 1623.7V1651.5M850.4 1503.9V1547.3M901.7 1521.8V1564.9M940.2 1484.8V1528.2M1136.3 1528.4V1556.5M1228.8 1536.7V1564.9M1275.8 1538.9V1567.1M1344.4 1527.6V1560.7M1422.8 1557.1V1585.3M1460.1 1556.5V1605.6M1538.7 1486.9V1519.8M1558.1 1509.3V1575.9M1568.3 1503.7V1531.8M1580.7 1520.7V1570.2M1616.5 1557V1585M1687.1 1514.2V1563.6M1763.2 1535.6V1545.5M1765.7 1459V1491.9M1766.5 1454.9V1482.5M1795.6 1480V1506.8M1797.1 1499V1526.1M1800.6 1482.6V1529.6M1817 1487.6V1513.3M1818.2 1504V1529.6M1825.6 1526.8V1552.5M1832.7 1480V1524.7M1834.8 1524.4V1566.3M1844.1 1505.8V1576.3M1844.8 1448.7V1545.3M1847 1488.3V1531.1M1847 1506.8V1529.6M1848.4 1512.5V1538.2M1851.2 1492.2V1584.2M1857.6 1495.7V1590.7M1859.8 1485.5V1511.1M1863.6 1427.4V1455.1M1867.9 1444.1V1468.4M1868.3 1466.9V1530.4M1868.3 1488.3V1523.9M1873.3 1469.8V1499.7M1879.7 1471.9V1534.6M1884 1441.3V1466.9M1884 1449.8V1472.6M1886.9 1417V1444.1M1891.1 1424.2V1458.4M1891.1 1458.4V1481.2M1892.6 1478.3V1512.5M1893.3 1382.8V1424.2M1894 1437V1462.7M1896.8 1457V1479.8M1896.8 1478.3V1506.8M1899 1441.3V1469.8"/>
<g class="c"><circle cx="199.5" cy="1611.9" r="8.85"/><circle cx="220.1" cy="1598" r="8.85"/><circle cx="284.3" cy="1572.4" r="8.85"/><circle cx="308.9" cy="1584.8" r="8.85"/><circle cx="359.5" cy="1542.9" r="8.85"/><circle cx="423.5" cy="1623.8" r="8.85"/><circle cx="445.6" cy="1635.4" r="8.85"/><circle cx="474.8" cy="1603.2" r="8.85"/><circle cx="525.2" cy="1606.9" r="8.85"/><circle cx="586.9" cy="1631" r="8.85"/><circle cx="592.6" cy="1599.7" r="8.85"/><circle cx="617.2" cy="1651.3" r="8.85"/><circle cx="648" cy="1591" r="8.85"/><circle cx="669.9" cy="1638.8" r="8.85"/><circle cx="701.3" cy="1622.2" r="8.85"/><circle cx="732.8" cy="1637.6" r="8.85"/><circle cx="850.4" cy="1525.7" r="8.85"/><circle cx="901.7" cy="1543.3" r="8.85"/><circle cx="940.2" cy="1506.4" r="8.85"/><circle cx="1136.3" cy="1542.5" r="8.85"/><circle cx="1228.8" cy="1551" r="8.85"/><circle cx="1275.8" cy="1553" r="8.85"/><circle cx="1344.4" cy="1544" r="8.85"/><circle cx="1422.8" cy="1571.2" r="8.85"/><circle cx="1460.1" cy="1581" r="8.85"/><circle cx="1538.7" cy="1503.9" r="8.85"/><circle cx="1558.1" cy="1542.9" r="8.85"/><circle cx="1568.3" cy="1517.7" r="8.85"/><circle cx="1580.7" cy="1545.3" r="8.85"/><circle cx="1616.5" cy="1571.3" r="8.85"/><circle cx="1687.1" cy="1538.8" r="8.85"/><circle cx="1763.2" cy="1540.6" r="8.85"/><circle cx="1765.7" cy="1475.9" r="8.85"/><circle cx="1766.5" cy="1468.5" r="8.85"/><circle cx="1795.6" cy="1493.3" r="8.85"/><circle cx="1797.1" cy="1512.5" r="8.85"/><circle cx="1800.6" cy="1506.1" r="8.85"/><circle cx="1817" cy="1500.4" r="8.85"/><circle cx="1818.2" cy="1516.8" r="8.85"/><circle cx="1825.6" cy="1539.6" r="8.85"/><circle cx="1832.7" cy="1504.7" r="8.85"/><circle cx="1834.8" cy="1545.3" r="8.85"/><circle cx="1844.1" cy="1541.1" r="8.85"/><circle cx="1844.8" cy="1496.9" r="8.85"/><circle cx="1847" cy="1509.7" r="8.85"/><circle cx="1847" cy="1518.2" r="8.85"/><circle cx="1848.4" cy="1525.4" r="8.85"/><circle cx="1851.2" cy="1538.2" r="8.85"/><circle cx="1857.6" cy="1543.2" r="8.85"/><circle cx="1859.8" cy="1498.3" r="8.85"/><circle cx="1863.6" cy="1441.3" r="8.85"/><circle cx="1867.9" cy="1456.2" r="8.85"/><circle cx="1868.3" cy="1498.3" r="8.85"/><circle cx="1868.3" cy="1505.4" r="8.85"/><circle cx="1873.3" cy="1484.7" r="8.85"/><circle cx="1879.7" cy="1503.3" r="8.85"/><circle cx="1884" cy="1454.1" r="8.85"/><circle cx="1884" cy="1461.2" r="8.85"/><circle cx="1886.9" cy="1430.6" r="8.85"/><circle cx="1891.1" cy="1441.3" r="8.85"/><circle cx="1891.1" cy="1469.8" r="8.85"/><circle cx="1892.6" cy="1495.4" r="8.85"/><circle cx="1893.3" cy="1403.5" r="8.85"/><circle cx="1894" cy="1449.8" r="8.85"/><circle cx="1896.8" cy="1468.4" r="8.85"/><circle cx="1896.8" cy="1492.6" r="8.85"/><circle cx="1899" cy="1454.1" r="8.85"/></g>
<path class="eb" d="M190.7 1597.7h17.6M190.7 1625.8h17.6M211.3 1577.4h17.6M211.3 1618.8h17.6M275.5 1551.3h17.6M275.5 1593.5h17.6M300.1 1564h17.6M300.1 1605.4h17.6M350.7 1522.1h17.6M350.7 1563.5h17.6M414.7 1609.4h17.6M414.7 1636.9h17.6M436.8 1621.3h17.6M436.8 1649.6h17.6M466 1589.3h17.6M466 1617.3h17.6M516.4 1592.8h17.6M516.4 1620.8h17.6M578.1 1610.4h17.6M578.1 1651.8h17.6M583.8 1550.6h17.6M583.8 1648.1h17.6M608.4 1637.7h17.6M608.4 1664.9h17.6M639.2 1570.4h17.6M639.2 1611.5h17.6M661.1 1624.9h17.6M661.1 1652.7h17.6M692.5 1594.2h17.6M692.5 1650.2h17.6M724 1623.7h17.6M724 1651.5h17.6M841.6 1503.9h17.6M841.6 1547.3h17.6M892.9 1521.8h17.6M892.9 1564.9h17.6M931.4 1484.8h17.6M931.4 1528.2h17.6M1127.5 1528.4h17.6M1127.5 1556.5h17.6M1220 1536.7h17.6M1220 1564.9h17.6M1267 1538.9h17.6M1267 1567.1h17.6M1335.6 1527.6h17.6M1335.6 1560.7h17.6M1414 1557.1h17.6M1414 1585.3h17.6M1451.3 1556.5h17.6M1451.3 1605.6h17.6M1529.9 1486.9h17.6M1529.9 1519.8h17.6M1549.3 1509.3h17.6M1549.3 1575.9h17.6M1559.5 1503.7h17.6M1559.5 1531.8h17.6M1571.9 1520.7h17.6M1571.9 1570.2h17.6M1607.7 1557h17.6M1607.7 1585h17.6M1678.3 1514.2h17.6M1678.3 1563.6h17.6M1754.4 1535.6h17.6M1754.4 1545.5h17.6M1756.9 1459h17.6M1756.9 1491.9h17.6M1757.7 1454.9h17.6M1757.7 1482.5h17.6M1786.8 1480h17.6M1786.8 1506.8h17.6M1788.3 1499h17.6M1788.3 1526.1h17.6M1791.8 1482.6h17.6M1791.8 1529.6h17.6M1808.2 1487.6h17.6M1808.2 1513.3h17.6M1809.4 1504h17.6M1809.4 1529.6h17.6M1816.8 1526.8h17.6M1816.8 1552.5h17.6M1823.9 1480h17.6M1823.9 1524.7h17.6M1826 1524.4h17.6M1826 1566.3h17.6M1835.3 1505.8h17.6M1835.3 1576.3h17.6M1836 1448.7h17.6M1836 1545.3h17.6M1838.2 1488.3h17.6M1838.2 1531.1h17.6M1838.2 1506.8h17.6M1838.2 1529.6h17.6M1839.6 1512.5h17.6M1839.6 1538.2h17.6M1842.4 1492.2h17.6M1842.4 1584.2h17.6M1848.8 1495.7h17.6M1848.8 1590.7h17.6M1851 1485.5h17.6M1851 1511.1h17.6M1854.8 1427.4h17.6M1854.8 1455.1h17.6M1859.1 1444.1h17.6M1859.1 1468.4h17.6M1859.5 1466.9h17.6M1859.5 1530.4h17.6M1859.5 1488.3h17.6M1859.5 1523.9h17.6M1864.5 1469.8h17.6M1864.5 1499.7h17.6M1870.9 1471.9h17.6M1870.9 1534.6h17.6M1875.2 1441.3h17.6M1875.2 1466.9h17.6M1875.2 1449.8h17.6M1875.2 1472.6h17.6M1878.1 1417h17.6M1878.1 1444.1h17.6M1882.3 1424.2h17.6M1882.3 1458.4h17.6M1882.3 1458.4h17.6M1882.3 1481.2h17.6M1883.8 1478.3h17.6M1883.8 1512.5h17.6M1884.5 1382.8h17.6M1884.5 1424.2h17.6M1885.2 1437h17.6M1885.2 1462.7h17.6M1888 1457h17.6M1888 1479.8h17.6M1888 1478.3h17.6M1888 1506.8h17.6M1890.2 1441.3h17.6M1890.2 1469.8h17.6"/>
<g><path d="M1177.8 1661.8l7.2 11.8h-14.4z" class="te"/><path d="M1449.2 1569.4l7.2 11.8h-14.4z" class="te"/><path d="M1484.5 1598.9l7.2 11.8h-14.4z" class="te"/><path d="M1500.2 1552l7.2 11.8h-14.4z" class="te"/><path d="M1546.3 1494.8l7.2 11.8h-14.4z" class="te"/><path d="M1571.3 1634.6l7.2 11.8h-14.4z" class="te"/><path d="M1587.7 1549.7l7.2 11.8h-14.4z" class="te"/><path d="M1621.8 1646.8l7.2 11.8h-14.4z" class="te"/><path d="M1640.4 1515.9l7.2 11.8h-14.4z" class="te"/><path d="M1682.3 1514.5l7.2 11.8h-14.4z" class="te"/><path d="M1722.6 1537.9l7.2 11.8h-14.4z" class="te"/><path d="M1743.2 1525.9l7.2 11.8h-14.4z" class="te"/><path d="M1760.9 1441.2l7.2 11.8h-14.4z" class="te"/><path d="M1784.9 1510.4l7.2 11.8h-14.4z" class="te"/><path d="M1808.5 1534.6l7.2 11.8h-14.4z" class="te"/><path d="M1816.3 1516.1l7.2 11.8h-14.4z" class="te"/><path d="M1848.4 1458.6l7.2 11.8h-14.4z" class="te"/><path d="M1891.1 1483.3l7.2 11.8h-14.4z" class="te"/></g>
<path class="eb" d="M1598.3 1546.5V1580M1726.4 1514.2V1564.2M1752.4 1511.3V1544.7"/>
<g class="c"><circle cx="1598.3" cy="1563.1" r="8.85"/><circle cx="1726.4" cy="1539.6" r="8.85"/><circle cx="1752.4" cy="1527.7" r="8.85"/></g>
<path class="eb" d="M1589.5 1546.5h17.6M1589.5 1580h17.6M1717.6 1514.2h17.6M1717.6 1564.2h17.6M1743.6 1511.3h17.6M1743.6 1544.7h17.6"/>
<g><path d="M982.4 1565.5l6 7.8l-6 7.8l-6 -7.8z" class="dw"/><path d="M1034.9 1546.9l6 7.8l-6 7.8l-6 -7.8z" class="dw"/><path d="M1059.2 1546.9l6 7.8l-6 7.8l-6 -7.8z" class="dw"/><path d="M1135.1 1620.4l6 7.8l-6 7.8l-6 -7.8z" class="dw"/><path d="M1217.9 1561.2l6 7.8l-6 7.8l-6 -7.8z" class="dw"/><path d="M1242.3 1588.4l6 7.8l-6 7.8l-6 -7.8z" class="dw"/><path d="M1318.3 1584.3l6 7.8l-6 7.8l-6 -7.8z" class="dw"/><path d="M1345.2 1598.4l6 7.8l-6 7.8l-6 -7.8z" class="dw"/><path d="M1423.4 1496l6 7.8l-6 7.8l-6 -7.8z" class="dw"/><path d="M1436.9 1523.9l6 7.8l-6 7.8l-6 -7.8z" class="dw"/><path d="M1522.6 1565.5l6 7.8l-6 7.8l-6 -7.8z" class="dw"/><path d="M1546.6 1543.3l6 7.8l-6 7.8l-6 -7.8z" class="dw"/><path d="M1620.8 1606.8l6 7.8l-6 7.8l-6 -7.8z" class="dw"/><path d="M1643.2 1496.1l6 7.8l-6 7.8l-6 -7.8z" class="dw"/><path d="M1716 1537.5l6 7.8l-6 7.8l-6 -7.8z" class="dw"/><path d="M1740.5 1561.2l6 7.8l-6 7.8l-6 -7.8z" class="dw"/><path d="M1810.6 1491.9l6 7.8l-6 7.8l-6 -7.8z" class="dw"/></g>
<g><path d="M180.9 1574.6l6 7.8l-6 7.8l-6 -7.8z" class="dg"/><path d="M245.9 1565.1l6 7.8l-6 7.8l-6 -7.8z" class="dg"/><path d="M340.9 1625.4l6 7.8l-6 7.8l-6 -7.8z" class="dg"/><path d="M432.7 1602.3l6 7.8l-6 7.8l-6 -7.8z" class="dg"/><path d="M524.2 1644l6 7.8l-6 7.8l-6 -7.8z" class="dg"/><path d="M624.4 1675l6 7.8l-6 7.8l-6 -7.8z" class="dg"/><path d="M819.9 1565.5l6 7.8l-6 7.8l-6 -7.8z" class="dg"/><path d="M906.5 1671l6 7.8l-6 7.8l-6 -7.8z" class="dg"/><path d="M985.3 1653.3l6 7.8l-6 7.8l-6 -7.8z" class="dg"/><path d="M1057.3 1662l6 7.8l-6 7.8l-6 -7.8z" class="dg"/><path d="M1169 1599.7l6 7.8l-6 7.8l-6 -7.8z" class="dg"/><path d="M1256 1644l6 7.8l-6 7.8l-6 -7.8z" class="dg"/><path d="M1361.9 1588.4l6 7.8l-6 7.8l-6 -7.8z" class="dg"/><path d="M1433.7 1708.7l6 7.8l-6 7.8l-6 -7.8z" class="dg"/><path d="M1540.2 1574.7l6 7.8l-6 7.8l-6 -7.8z" class="dg"/><path d="M1647.1 1643.8l6 7.8l-6 7.8l-6 -7.8z" class="dg"/><path d="M1709.4 1565.3l6 7.8l-6 7.8l-6 -7.8z" class="dg"/><path d="M1782.1 1595.5l6 7.8l-6 7.8l-6 -7.8z" class="dg"/></g>
<path d="M1899 106.6V1761.6" stroke="#1d2b26" stroke-width="1" fill="none"/>
<g class="tk">
<text transform="translate(222.20 88.85) scale(0.9816 1)">200</text>
<text transform="translate(222.20 1802.10) scale(0.9816 1)">200</text>
<text transform="translate(417.15 88.85) scale(0.9816 1)">400</text>
<text transform="translate(417.15 1802.10) scale(0.9816 1)">400</text>
<text transform="translate(611.42 88.85) scale(0.9816 1)">600</text>
<text transform="translate(611.42 1802.10) scale(0.9816 1)">600</text>
<text transform="translate(806.11 88.85) scale(0.9816 1)">800</text>
<text transform="translate(806.11 1802.10) scale(0.9816 1)">800</text>
<text transform="translate(993.94 88.85) scale(0.9600 1)">1000</text>
<text transform="translate(993.94 1802.10) scale(0.9600 1)">1000</text>
<text transform="translate(1188.55 88.85) scale(0.9600 1)">1200</text>
<text transform="translate(1188.55 1802.10) scale(0.9600 1)">1200</text>
<text transform="translate(1383.16 88.85) scale(0.9600 1)">1400</text>
<text transform="translate(1383.16 1802.10) scale(0.9600 1)">1400</text>
<text transform="translate(1577.77 88.85) scale(0.9600 1)">1600</text>
<text transform="translate(1577.77 1802.10) scale(0.9600 1)">1600</text>
<text transform="translate(1772.38 88.85) scale(0.9600 1)">1800</text>
<text transform="translate(1772.38 1802.10) scale(0.9600 1)">1800</text>
<text transform="translate(87.43 177.09) scale(0.9290 1)">-6.3</text>
<text transform="translate(87.43 236.17) scale(0.9290 1)">-6.4</text>
<text transform="translate(87.43 295.26) scale(0.9290 1)">-6.5</text>
<text transform="translate(87.43 354.34) scale(0.9290 1)">-6.6</text>
<text transform="translate(87.43 413.43) scale(0.9290 1)">-6.7</text>
<text transform="translate(87.43 472.51) scale(0.9290 1)">-6.8</text>
<text transform="translate(90.67 945.50) scale(0.9750 1)">900</text>
<text transform="translate(90.67 1014.53) scale(0.9750 1)">850</text>
<text transform="translate(90.67 1083.57) scale(0.9750 1)">800</text>
<text transform="translate(90.67 1152.60) scale(0.9750 1)">750</text>
<text transform="translate(90.67 1221.63) scale(0.9750 1)">700</text>
<text transform="translate(90.67 1290.67) scale(0.9750 1)">650</text>
<text transform="translate(90.67 1359.70) scale(0.9750 1)">600</text>
<text transform="translate(1910.02 600.47) scale(0.9850 1)">295</text>
<text transform="translate(1910.02 669.43) scale(0.9850 1)">290</text>
<text transform="translate(1910.02 738.40) scale(0.9850 1)">285</text>
<text transform="translate(1910.02 807.37) scale(0.9850 1)">280</text>
<text transform="translate(1910.02 876.33) scale(0.9850 1)">275</text>
<text transform="translate(1910.02 1428.70) scale(0.9850 1)">280</text>
<text transform="translate(1910.02 1497.60) scale(0.9850 1)">275</text>
<text transform="translate(1910.02 1566.50) scale(0.9850 1)">270</text>
<text transform="translate(1910.02 1635.40) scale(0.9850 1)">265</text>
<text transform="translate(1910.02 1704.30) scale(0.9850 1)">260</text>
<text transform="translate(1009.99 24.80) scale(0.9986 1)">Air age [CE]</text>
<text transform="translate(1009.99 1863.75) scale(0.9986 1)">Air age [CE]</text>
<text transform="translate(30.20 371.70) rotate(-90)"><tspan x="-0.93" dy="0.00" textLength="14.33" lengthAdjust="spacingAndGlyphs" font-style="italic">δ</tspan><tspan x="9.79" dy="-14.10" textLength="26.36" lengthAdjust="spacingAndGlyphs" font-size="23">13</tspan><tspan x="37.36" dy="14.10" textLength="20.74" lengthAdjust="spacingAndGlyphs">C</tspan><tspan x="58.30" dy="0.00" textLength="8.84" lengthAdjust="spacingAndGlyphs">-</tspan><tspan x="66.12" dy="0.00" textLength="40.93" lengthAdjust="spacingAndGlyphs">CO</tspan><tspan x="107.17" dy="13.00" textLength="12.17" lengthAdjust="spacingAndGlyphs" font-size="23">2</tspan><tspan x="119.82" dy="-13.00" textLength="60.61" lengthAdjust="spacingAndGlyphs"> [‰]</tspan></text>
<text transform="translate(22.85 1214.10) rotate(-90)"><tspan x="-1.17" dy="0.00" textLength="40.73" lengthAdjust="spacingAndGlyphs">CH</tspan><tspan x="41.06" dy="13.05" textLength="11.08" lengthAdjust="spacingAndGlyphs" font-size="23">4</tspan><tspan x="54.43" dy="-13.05" textLength="70.41" lengthAdjust="spacingAndGlyphs"> [ppb]</tspan></text>
<text transform="translate(2045.20 670.05) rotate(90)"><tspan x="-1.20" dy="0.00" textLength="41.52" lengthAdjust="spacingAndGlyphs">CO</tspan><tspan x="40.42" dy="13.10" textLength="12.17" lengthAdjust="spacingAndGlyphs" font-size="23">2</tspan><tspan x="54.33" dy="-13.10" textLength="78.88" lengthAdjust="spacingAndGlyphs"> [ppm]</tspan></text>
<text transform="translate(2045.20 1521.90) rotate(90)"><tspan x="-0.80" dy="0.00" textLength="21.05" lengthAdjust="spacingAndGlyphs">N</tspan><tspan x="20.47" dy="13.10" textLength="12.17" lengthAdjust="spacingAndGlyphs" font-size="23">2</tspan><tspan x="34.74" dy="-13.10" textLength="21.02" lengthAdjust="spacingAndGlyphs">O</tspan><tspan x="55.84" dy="0.00" textLength="70.29" lengthAdjust="spacingAndGlyphs"> [ppb]</tspan></text>
<text transform="translate(239.91 193.60) scale(0.9916 1)">(a)</text>
<text transform="translate(239.34 608.00) scale(0.9713 1)">(b)</text>
<text transform="translate(239.79 1022.30) scale(1.0075 1)">(c)</text>
<text transform="translate(239.34 1435.20) scale(0.9713 1)">(d)</text>
<text transform="translate(479.09 292.90) scale(0.9589 1)">Law Dome</text>
<text transform="translate(480.30 353.60) scale(0.9862 1)">WAIS</text>
<text transform="translate(479.49 415.20) scale(0.9674 1)">DML</text>
<text transform="translate(604.89 610.20) scale(0.9582 1)">Law Dome</text>
<text transform="translate(848.90 610.20) scale(0.9924 1)">WAIS</text>
<text transform="translate(1035.58 610.20) scale(0.9786 1)">EDML</text>
<text transform="translate(1228.71 610.20) scale(0.9658 1)">South Pole</text>
<text transform="translate(1470.29 610.20) scale(0.9613 1)">DML</text>
<text transform="translate(499.39 1043.75) scale(0.9619 1)">Law Dome</text>
<text transform="translate(744.30 1043.75) scale(0.9670 1)">WAIS</text>
<text transform="translate(929.59 1043.75) scale(0.9613 1)">NEEM</text>
<text transform="translate(1123.82 1043.75) scale(0.9642 1)">GISP2</text>
<text transform="translate(501.49 1437.90) scale(0.9619 1)">Law Dome</text>
<text transform="translate(743.99 1437.90) scale(0.9625 1)">Eurocore</text>
<text transform="translate(962.21 1437.90) scale(0.9685 1)">GRIP</text>
<text transform="translate(1142.09 1437.90) scale(0.9646 1)">EDC</text>
</g>
<g>
<path d="M428.9 259.1V304" class="eb"/><circle cx="428.9" cy="281.9" r="8.85" class="c"/><path d="M420.1 259.1h17.6M420.1 304h17.6" class="eb"/>
<rect x="424.3" y="338.6" width="8.7" height="8.7" class="sg"/>
<path d="M428.9 395.5l8.5 14.6h-17z" class="tb"/>
<path d="M554.8 586.1V612.9" class="eb"/><circle cx="554.8" cy="599.5" r="8.85" class="c"/><path d="M546 586.1h17.6M546 612.9h17.6" class="eb"/>
<rect x="792.8" y="595.1" width="8.7" height="8.7" class="sg"/>
<rect x="980.9" y="595.1" width="8.7" height="8.7" class="sw"/>
<path d="M1179.6 589.7l8.5 14.6h-17z" class="ty"/>
<path d="M1420 589.7l8.5 14.6h-17z" class="tb"/>
<path d="M449.8 1019.6V1045.5" class="eb"/><circle cx="449.8" cy="1032.7" r="8.85" class="c"/><path d="M441 1019.6h17.6M441 1045.5h17.6" class="eb"/>
<rect x="687.6" y="1028.4" width="8.7" height="8.7" class="sg"/>
<path d="M879.8 1026.9l5 8.7h-10z" class="tn"/>
<rect x="1069.8" y="1028.4" width="8.7" height="8.7" class="sgr"/>
<path d="M451.8 1413.4V1439.6" class="eb"/><circle cx="451.8" cy="1426.8" r="8.85" class="c"/><path d="M443 1413.4h17.6M443 1439.6h17.6" class="eb"/>
<path d="M693.9 1419.5l7.2 11.8h-14.4z" class="te"/>
<path d="M912.3 1419l6 7.8l-6 7.8l-6 -7.8z" class="dw"/>
<path d="M1091.4 1419l6 7.8l-6 7.8l-6 -7.8z" class="dg"/>
</g>
</svg>
</body></html>
